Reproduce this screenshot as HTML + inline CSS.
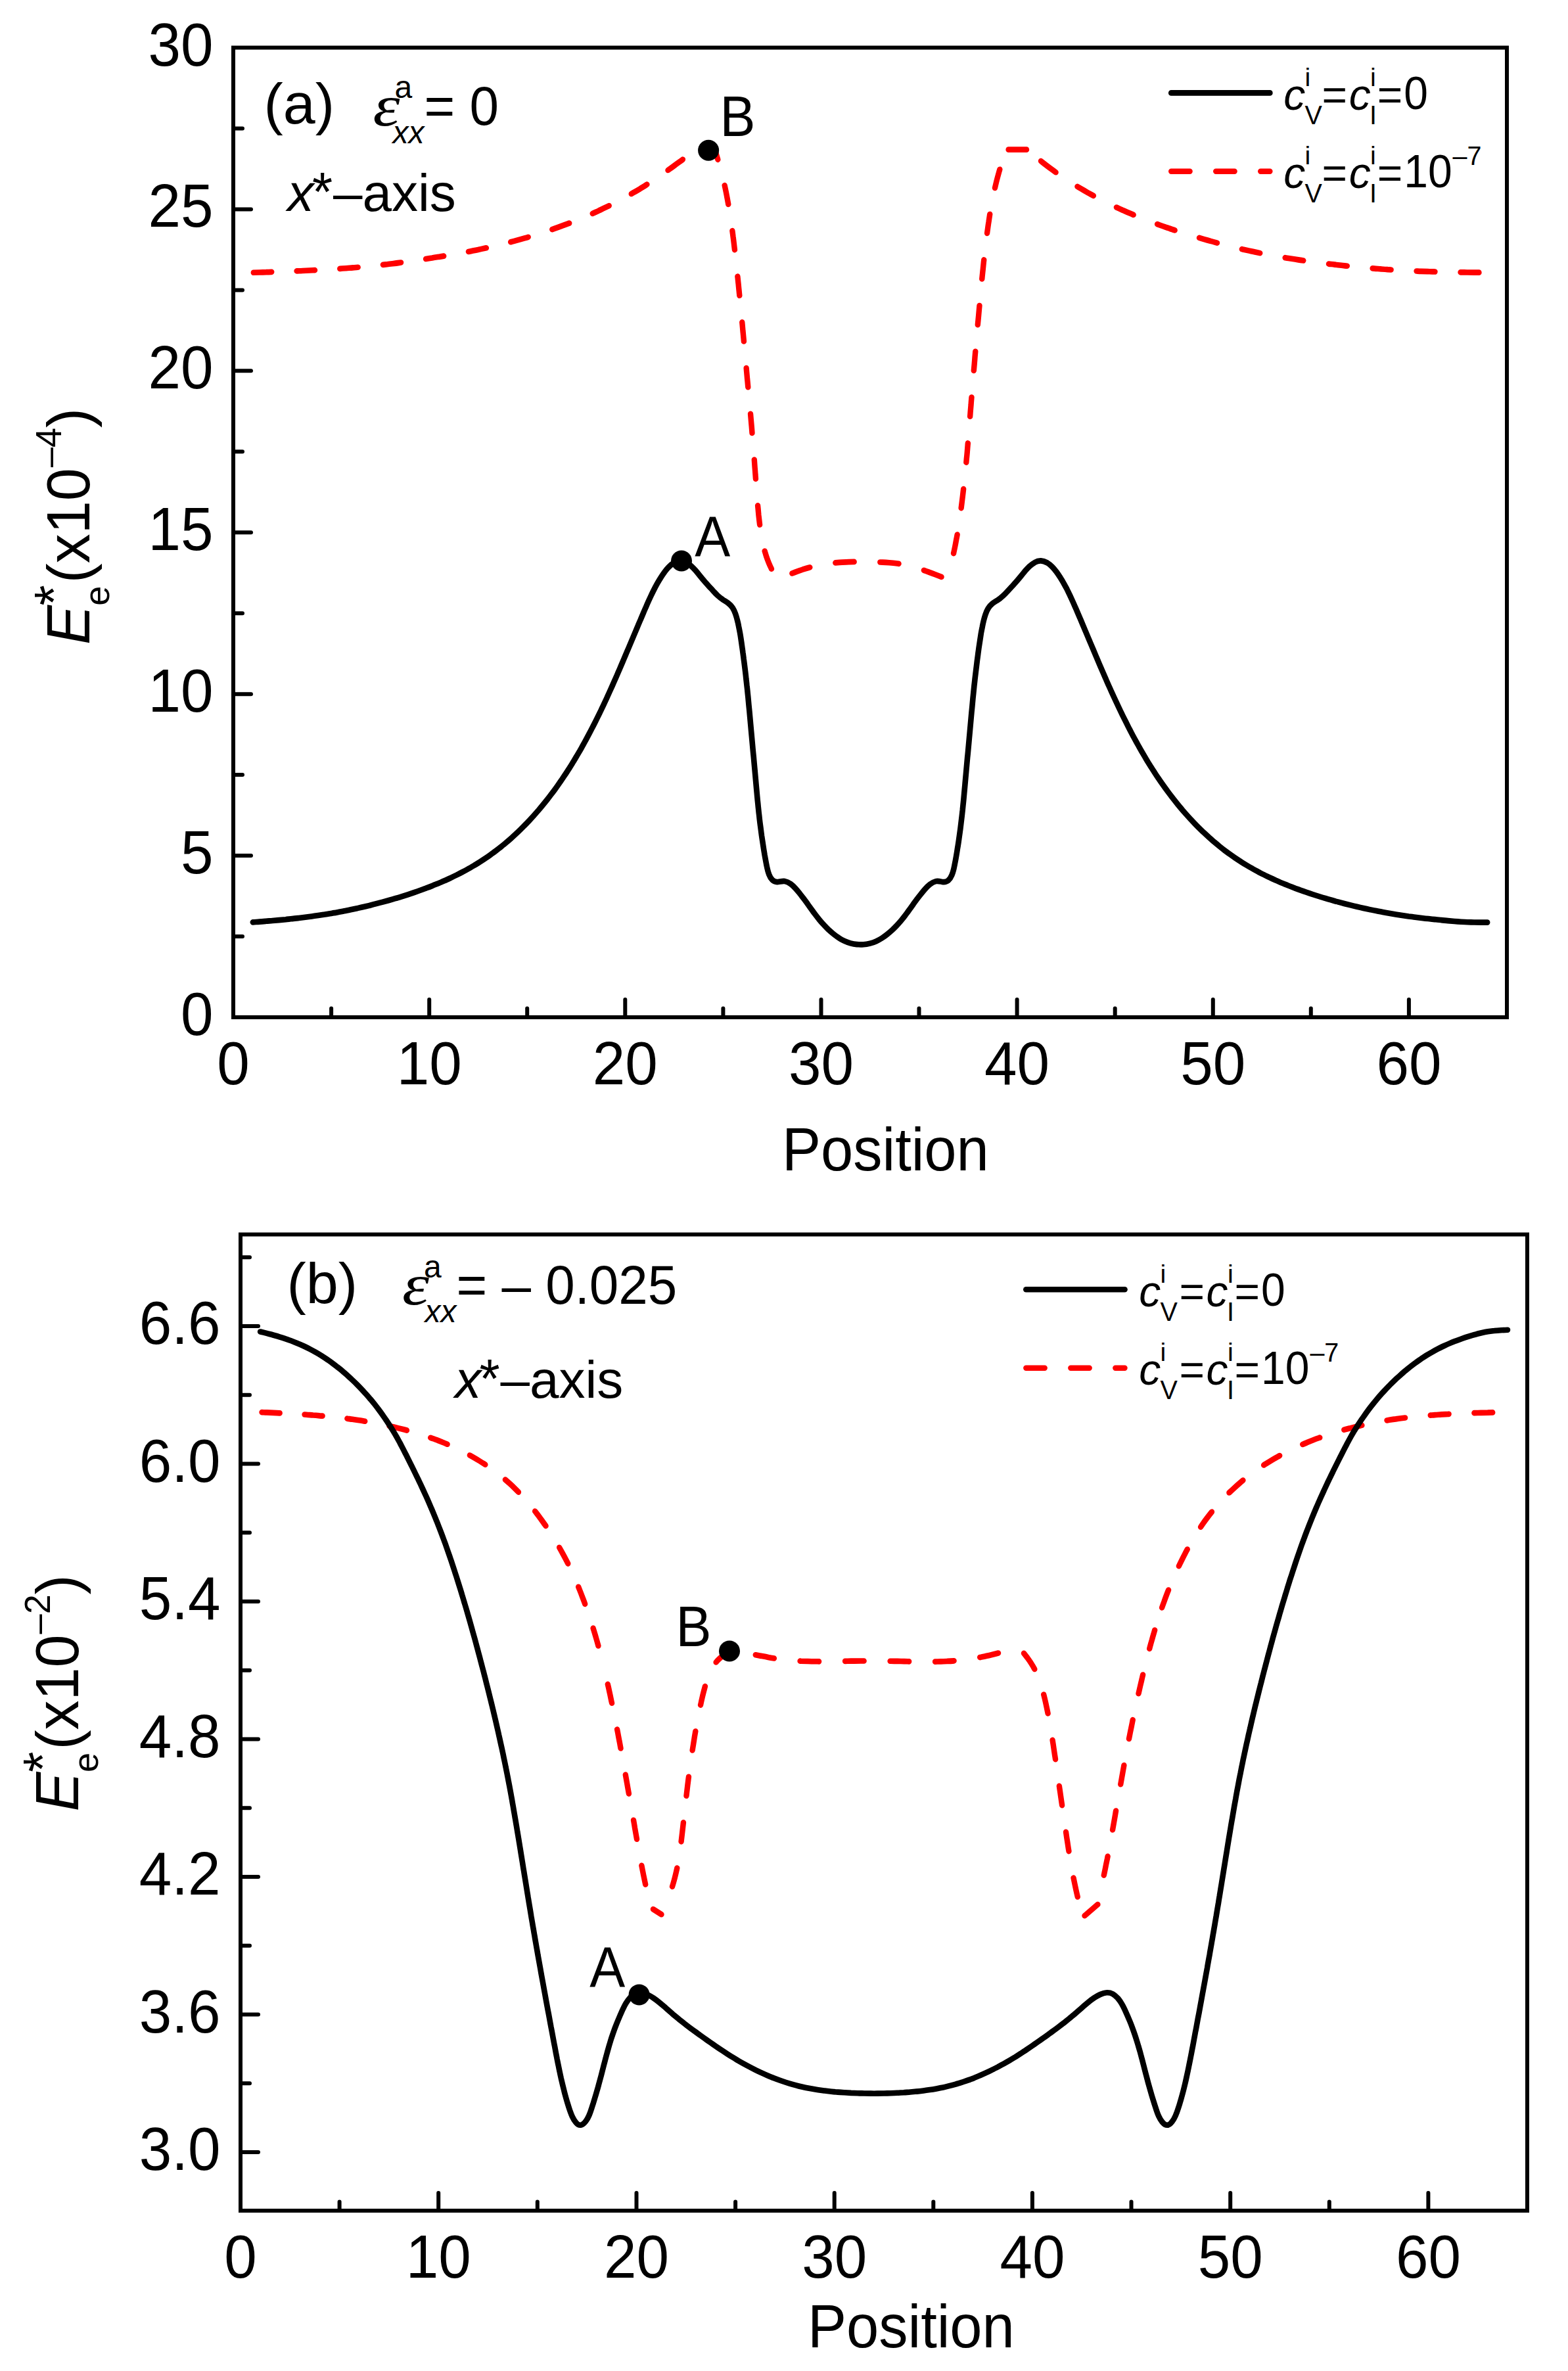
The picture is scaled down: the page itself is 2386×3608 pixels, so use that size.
<!DOCTYPE html>
<html lang="en"><head><meta charset="utf-8"><title>Elastic energy profiles</title>
<style>html,body{margin:0;padding:0;background:#fff}svg{display:block}text{font-family:"Liberation Sans", sans-serif;fill:#000}.it{font-style:italic}.se{font-family:"Liberation Serif", serif;font-style:italic}.ax{stroke:#000;stroke-width:6;fill:none}.tk{stroke:#000;stroke-width:6;stroke-linecap:round}.bk{stroke:#000;stroke-width:8.6;fill:none;stroke-linecap:round;stroke-linejoin:round}.rd{stroke:#f00;stroke-width:8.4;fill:none;stroke-linecap:round;stroke-linejoin:round;stroke-dasharray:28.4 39.6}</style></head><body>
<svg width="2386" height="3608" viewBox="0 0 2386 3608" role="img" aria-label="Elastic energy along the x*-axis, panels (a) and (b)">
<rect width="2386" height="3608" fill="#fff"/>
<rect class="ax" x="355" y="72.5" width="1938" height="1475.5"/>
<text transform="translate(355 1650) scale(1 1.04)" font-size="89" text-anchor="middle">0</text>
<line class="tk" x1="653.2" y1="1548" x2="653.2" y2="1521"/>
<text transform="translate(653.2 1650) scale(1 1.04)" font-size="89" text-anchor="middle">10</text>
<line class="tk" x1="951.3" y1="1548" x2="951.3" y2="1521"/>
<text transform="translate(951.3 1650) scale(1 1.04)" font-size="89" text-anchor="middle">20</text>
<line class="tk" x1="1249.5" y1="1548" x2="1249.5" y2="1521"/>
<text transform="translate(1249.5 1650) scale(1 1.04)" font-size="89" text-anchor="middle">30</text>
<line class="tk" x1="1547.6" y1="1548" x2="1547.6" y2="1521"/>
<text transform="translate(1547.6 1650) scale(1 1.04)" font-size="89" text-anchor="middle">40</text>
<line class="tk" x1="1845.8" y1="1548" x2="1845.8" y2="1521"/>
<text transform="translate(1845.8 1650) scale(1 1.04)" font-size="89" text-anchor="middle">50</text>
<line class="tk" x1="2143.9" y1="1548" x2="2143.9" y2="1521"/>
<text transform="translate(2143.9 1650) scale(1 1.04)" font-size="89" text-anchor="middle">60</text>
<line class="tk" x1="504.1" y1="1548" x2="504.1" y2="1534.5"/>
<line class="tk" x1="802.2" y1="1548" x2="802.2" y2="1534.5"/>
<line class="tk" x1="1100.4" y1="1548" x2="1100.4" y2="1534.5"/>
<line class="tk" x1="1398.5" y1="1548" x2="1398.5" y2="1534.5"/>
<line class="tk" x1="1696.7" y1="1548" x2="1696.7" y2="1534.5"/>
<line class="tk" x1="1994.8" y1="1548" x2="1994.8" y2="1534.5"/>
<text transform="translate(324.5 1575) scale(1 1.04)" font-size="89" text-anchor="end">0</text>
<line class="tk" x1="355" y1="1302.1" x2="382" y2="1302.1"/>
<text transform="translate(324.5 1329.1) scale(1 1.04)" font-size="89" text-anchor="end">5</text>
<line class="tk" x1="355" y1="1056.2" x2="382" y2="1056.2"/>
<text transform="translate(324.5 1083.2) scale(1 1.04)" font-size="89" text-anchor="end">10</text>
<line class="tk" x1="355" y1="810.2" x2="382" y2="810.2"/>
<text transform="translate(324.5 837.2) scale(1 1.04)" font-size="89" text-anchor="end">15</text>
<line class="tk" x1="355" y1="564.3" x2="382" y2="564.3"/>
<text transform="translate(324.5 591.3) scale(1 1.04)" font-size="89" text-anchor="end">20</text>
<line class="tk" x1="355" y1="318.4" x2="382" y2="318.4"/>
<text transform="translate(324.5 345.4) scale(1 1.04)" font-size="89" text-anchor="end">25</text>
<text transform="translate(324.5 99.5) scale(1 1.04)" font-size="89" text-anchor="end">30</text>
<line class="tk" x1="355" y1="1425" x2="369" y2="1425"/>
<line class="tk" x1="355" y1="1179.1" x2="369" y2="1179.1"/>
<line class="tk" x1="355" y1="933.2" x2="369" y2="933.2"/>
<line class="tk" x1="355" y1="687.3" x2="369" y2="687.3"/>
<line class="tk" x1="355" y1="441.4" x2="369" y2="441.4"/>
<line class="tk" x1="355" y1="195.5" x2="369" y2="195.5"/>
<rect class="ax" x="366" y="1878.5" width="1958" height="1485.5"/>
<text transform="translate(366 3466) scale(1 1.04)" font-size="89" text-anchor="middle">0</text>
<line class="tk" x1="667.2" y1="3364" x2="667.2" y2="3337"/>
<text transform="translate(667.2 3466) scale(1 1.04)" font-size="89" text-anchor="middle">10</text>
<line class="tk" x1="968.5" y1="3364" x2="968.5" y2="3337"/>
<text transform="translate(968.5 3466) scale(1 1.04)" font-size="89" text-anchor="middle">20</text>
<line class="tk" x1="1269.7" y1="3364" x2="1269.7" y2="3337"/>
<text transform="translate(1269.7 3466) scale(1 1.04)" font-size="89" text-anchor="middle">30</text>
<line class="tk" x1="1570.9" y1="3364" x2="1570.9" y2="3337"/>
<text transform="translate(1570.9 3466) scale(1 1.04)" font-size="89" text-anchor="middle">40</text>
<line class="tk" x1="1872.2" y1="3364" x2="1872.2" y2="3337"/>
<text transform="translate(1872.2 3466) scale(1 1.04)" font-size="89" text-anchor="middle">50</text>
<line class="tk" x1="2173.4" y1="3364" x2="2173.4" y2="3337"/>
<text transform="translate(2173.4 3466) scale(1 1.04)" font-size="89" text-anchor="middle">60</text>
<line class="tk" x1="516.6" y1="3364" x2="516.6" y2="3350.5"/>
<line class="tk" x1="817.8" y1="3364" x2="817.8" y2="3350.5"/>
<line class="tk" x1="1119.1" y1="3364" x2="1119.1" y2="3350.5"/>
<line class="tk" x1="1420.3" y1="3364" x2="1420.3" y2="3350.5"/>
<line class="tk" x1="1721.5" y1="3364" x2="1721.5" y2="3350.5"/>
<line class="tk" x1="2022.8" y1="3364" x2="2022.8" y2="3350.5"/>
<line class="tk" x1="366" y1="3275" x2="393" y2="3275"/>
<text transform="translate(335.5 3302) scale(1 1.04)" font-size="89" text-anchor="end">3.0</text>
<line class="tk" x1="366" y1="3065.5" x2="393" y2="3065.5"/>
<text transform="translate(335.5 3092.5) scale(1 1.04)" font-size="89" text-anchor="end">3.6</text>
<line class="tk" x1="366" y1="2856" x2="393" y2="2856"/>
<text transform="translate(335.5 2883) scale(1 1.04)" font-size="89" text-anchor="end">4.2</text>
<line class="tk" x1="366" y1="2646.5" x2="393" y2="2646.5"/>
<text transform="translate(335.5 2673.5) scale(1 1.04)" font-size="89" text-anchor="end">4.8</text>
<line class="tk" x1="366" y1="2437" x2="393" y2="2437"/>
<text transform="translate(335.5 2464) scale(1 1.04)" font-size="89" text-anchor="end">5.4</text>
<line class="tk" x1="366" y1="2227.5" x2="393" y2="2227.5"/>
<text transform="translate(335.5 2254.5) scale(1 1.04)" font-size="89" text-anchor="end">6.0</text>
<line class="tk" x1="366" y1="2018" x2="393" y2="2018"/>
<text transform="translate(335.5 2045) scale(1 1.04)" font-size="89" text-anchor="end">6.6</text>
<line class="tk" x1="366" y1="3170.2" x2="380" y2="3170.2"/>
<line class="tk" x1="366" y1="2960.8" x2="380" y2="2960.8"/>
<line class="tk" x1="366" y1="2751.2" x2="380" y2="2751.2"/>
<line class="tk" x1="366" y1="2541.8" x2="380" y2="2541.8"/>
<line class="tk" x1="366" y1="2332.2" x2="380" y2="2332.2"/>
<line class="tk" x1="366" y1="2122.8" x2="380" y2="2122.8"/>
<line class="tk" x1="366" y1="1913.2" x2="380" y2="1913.2"/>
<g transform="scale(1 1.03)">
<path class="rd" style="stroke-dasharray:27.5 38.3;stroke-dashoffset:64.8" d="M384.8 402.7C388.2 402.6 391.6 402.5 394.9 402.4C398.3 402.3 401.7 402.2 405.1 402.1C408.5 401.9 411.8 401.8 415.2 401.7C418.6 401.6 422 401.5 425.4 401.4C428.7 401.2 432.1 401.1 435.5 401C438.9 400.9 442.2 400.7 445.6 400.6C449 400.5 452.4 400.3 455.8 400.2C459.1 400.1 462.5 399.9 465.9 399.8C469.3 399.6 472.6 399.5 476 399.3C479.4 399.1 482.8 399 486.2 398.8C489.5 398.6 492.9 398.4 496.3 398.2C499.7 398 503 397.8 506.4 397.6C509.8 397.4 513.2 397.2 516.5 397C519.9 396.7 523.3 396.5 526.6 396.3C530 396 533.4 395.8 536.8 395.5C540.1 395.2 543.5 395 546.9 394.7C550.2 394.4 553.6 394.1 557 393.8C560.3 393.5 563.7 393.1 567.1 392.8C570.4 392.5 573.8 392.1 577.1 391.8C580.5 391.4 583.9 391 587.2 390.7C590.6 390.3 593.9 389.9 597.3 389.5C600.7 389.1 604 388.7 607.4 388.2C610.7 387.8 614.1 387.4 617.4 386.9C620.8 386.5 624.1 386 627.5 385.5C630.8 385 634.2 384.6 637.5 384.1C640.9 383.6 644.2 383.1 647.5 382.6C650.9 382.1 654.2 381.6 657.6 381.1C660.9 380.5 664.3 380 667.6 379.5C670.9 378.9 674.3 378.4 677.6 377.9C681 377.3 684.3 376.8 687.6 376.2C691 375.6 694.3 375.1 697.6 374.5C701 373.9 704.3 373.3 707.6 372.7C710.9 372.1 714.3 371.5 717.6 370.8C720.9 370.2 724.2 369.5 727.5 368.9C730.8 368.2 734.2 367.5 737.5 366.8C740.8 366.1 744.1 365.4 747.4 364.7C750.7 363.9 754 363.2 757.3 362.4C760.6 361.6 763.8 360.8 767.1 360C770.4 359.2 773.7 358.4 777 357.6C780.2 356.7 783.5 355.9 786.8 355C790 354.1 793.3 353.2 796.6 352.3C799.8 351.4 803.1 350.5 806.3 349.5C809.6 348.6 812.8 347.6 816 346.6C819.3 345.7 822.5 344.7 825.7 343.6C829 342.6 832.2 341.6 835.4 340.5C838.6 339.5 841.8 338.4 845 337.3C848.2 336.2 851.4 335.1 854.6 333.9C857.8 332.8 860.9 331.6 864.1 330.5C867.3 329.3 870.4 328.1 873.6 326.9C876.8 325.6 879.9 324.4 883 323.2C886.2 321.9 889.3 320.6 892.4 319.3C895.6 318 898.7 316.7 901.8 315.4C904.9 314 908 312.7 911.1 311.3C914.1 309.9 917.2 308.5 920.3 307C923.3 305.6 926.4 304.2 929.4 302.7C932.5 301.2 935.5 299.7 938.5 298.2C941.5 296.7 944.5 295.1 947.5 293.6C950.5 292 953.5 290.4 956.5 288.8C959.4 287.2 962.4 285.5 965.3 283.8C968.3 282.2 971.2 280.5 974.1 278.8C977 277 979.9 275.3 982.8 273.5C985.6 271.8 988.5 270 991.3 268.1C994.2 266.3 997 264.5 999.8 262.6C1002.7 260.8 1005.5 258.9 1008.3 257C1011.1 255.1 1013.9 253.2 1016.7 251.3C1019.4 249.4 1022.2 247.4 1025 245.5C1027.8 243.6 1030.5 241.6 1033.3 239.6C1036 237.7 1038.8 235.7 1041.5 233.7C1044.3 231.8 1047 229.8 1049.8 227.8C1052.5 225.8 1055.3 223.8 1058 221.8"/>
<path class="rd" style="stroke-dasharray:28.4 39.6" d="M1068 221.8L1088 221.8"/>
<path class="rd" style="stroke-dasharray:28.4 39.6;stroke-dashoffset:13.8" d="M1088 221.8C1089 225 1090 228.2 1091 231.4C1092 234.6 1093 237.8 1093.9 241.1C1094.9 244.3 1095.8 247.5 1096.7 250.7C1097.6 253.9 1098.5 257.2 1099.3 260.4C1100.2 263.7 1101 266.9 1101.8 270.2C1102.6 273.4 1103.3 276.7 1104 280C1104.7 283.2 1105.4 286.5 1106 289.8C1106.7 293.1 1107.3 296.4 1107.9 299.7C1108.5 303 1109.1 306.3 1109.7 309.6C1110.2 312.9 1110.8 316.2 1111.3 319.5C1111.8 322.8 1112.3 326.2 1112.8 329.5C1113.3 332.8 1113.7 336.1 1114.2 339.4C1114.6 342.8 1115.1 346.1 1115.5 349.4C1116 352.8 1116.4 356.1 1116.8 359.4C1117.2 362.8 1117.6 366.1 1118 369.4C1118.4 372.8 1118.8 376.1 1119.2 379.4C1119.6 382.8 1120 386.1 1120.3 389.5C1120.7 392.8 1121.1 396.1 1121.4 399.5C1121.8 402.8 1122.1 406.1 1122.5 409.5C1122.9 412.8 1123.2 416.2 1123.6 419.5C1123.9 422.8 1124.2 426.2 1124.6 429.5C1124.9 432.9 1125.3 436.2 1125.6 439.6C1125.9 442.9 1126.3 446.2 1126.6 449.6C1127 452.9 1127.3 456.3 1127.6 459.6C1127.9 462.9 1128.3 466.3 1128.6 469.6C1128.9 473 1129.3 476.3 1129.6 479.6C1129.9 483 1130.2 486.3 1130.5 489.7C1130.9 493 1131.2 496.3 1131.5 499.7C1131.8 503 1132.1 506.4 1132.4 509.7C1132.8 513.1 1133.1 516.4 1133.4 519.7C1133.7 523.1 1134 526.4 1134.3 529.8C1134.6 533.1 1135 536.4 1135.3 539.8C1135.6 543.1 1135.9 546.5 1136.2 549.8C1136.5 553.1 1136.8 556.5 1137.1 559.8C1137.5 563.2 1137.8 566.5 1138.1 569.9C1138.4 573.2 1138.7 576.5 1139 579.9C1139.4 583.2 1139.7 586.6 1140 589.9C1140.3 593.2 1140.6 596.6 1140.9 599.9C1141.2 603.3 1141.5 606.6 1141.9 609.9C1142.2 613.3 1142.5 616.6 1142.8 620C1143.1 623.3 1143.4 626.7 1143.7 630C1144 633.4 1144.3 636.7 1144.5 640C1144.8 643.4 1145.1 646.7 1145.4 650.1C1145.7 653.4 1146 656.8 1146.2 660.1C1146.5 663.5 1146.8 666.8 1147.1 670.2C1147.3 673.5 1147.6 676.9 1147.9 680.3C1148.1 683.6 1148.4 687 1148.6 690.3C1148.9 693.7 1149.2 697 1149.4 700.4C1149.7 703.8 1149.9 707.1 1150.2 710.5C1150.4 713.9 1150.7 717.2 1150.9 720.6C1151.2 724 1151.4 727.3 1151.7 730.7C1152 734.1 1152.3 737.4 1152.5 740.8C1152.8 744.1 1153.1 747.5 1153.5 750.9C1153.8 754.2 1154.1 757.6 1154.4 760.9C1154.8 764.3 1155.2 767.6 1155.6 771C1156 774.3 1156.4 777.7 1156.8 781C1157.3 784.3 1157.8 787.6 1158.4 790.9C1159 794.2 1159.6 797.5 1160.3 800.8C1161 804 1161.8 807.3 1162.6 810.5C1163.5 813.7 1164.5 816.9 1165.5 820C1166.5 823.2 1167.7 826.3 1168.9 829.4C1170.2 832.4 1171.5 835.5 1173 838.5C1174.4 841.4 1176 844.4 1177.6 847.3C1179.3 850.2 1181 853 1182.7 855.9"/>
<path class="rd" style="stroke-dasharray:28.4 39.6;stroke-dashoffset:43.7" d="M1182.7 855.9C1185.9 854.6 1189.1 853.4 1192.3 852.1C1195.5 850.8 1198.7 849.6 1201.9 848.4C1205.1 847.1 1208.3 846 1211.5 844.8C1214.7 843.7 1218 842.6 1221.2 841.5C1224.4 840.5 1227.7 839.5 1231 838.6C1234.3 837.7 1237.6 836.9 1240.9 836.2C1244.2 835.4 1247.5 834.8 1250.9 834.2C1254.2 833.6 1257.6 833.1 1261 832.6C1264.3 832.2 1267.7 831.8 1271.1 831.5C1274.5 831.2 1277.9 830.9 1281.4 830.7C1284.8 830.5 1288.2 830.3 1291.6 830.2C1295.1 830.1 1298.5 830 1301.9 830C1305.4 829.9 1308.8 829.9 1312.2 829.9C1315.7 830 1319.1 830 1322.5 830.1C1326 830.1 1329.4 830.2 1332.8 830.3C1336.3 830.4 1339.7 830.6 1343.1 830.7C1346.5 830.9 1349.9 831.1 1353.3 831.3C1356.7 831.6 1360.1 831.9 1363.5 832.3C1366.9 832.7 1370.2 833.3 1373.6 833.9C1376.9 834.5 1380.2 835.2 1383.5 836C1386.8 836.8 1390.1 837.7 1393.4 838.6C1396.6 839.6 1399.9 840.6 1403.2 841.6C1406.4 842.7 1409.6 843.8 1412.9 845C1416.1 846.1 1419.3 847.3 1422.5 848.5C1425.8 849.7 1429 850.9 1432.2 852.2C1435.4 853.4 1438.6 854.7 1441.8 855.9"/>
<path class="rd" style="stroke-dasharray:28.4 39.6;stroke-dashoffset:28.6" d="M1441.8 855.9C1442.6 852.7 1443.4 849.4 1444.2 846.2C1445 842.9 1445.8 839.7 1446.6 836.4C1447.4 833.2 1448.2 829.9 1448.9 826.7C1449.7 823.4 1450.4 820.1 1451.2 816.9C1451.9 813.6 1452.6 810.3 1453.3 807.1C1454 803.8 1454.6 800.5 1455.2 797.2C1455.9 793.9 1456.5 790.7 1457.1 787.4C1457.6 784.1 1458.2 780.8 1458.7 777.5C1459.2 774.2 1459.7 770.9 1460.2 767.6C1460.7 764.3 1461.2 760.9 1461.7 757.6C1462.1 754.3 1462.6 751 1463 747.7C1463.4 744.4 1463.9 741.1 1464.3 737.7C1464.7 734.4 1465.1 731.1 1465.5 727.8C1465.9 724.4 1466.3 721.1 1466.7 717.8C1467.1 714.5 1467.4 711.1 1467.8 707.8C1468.2 704.5 1468.5 701.2 1468.9 697.8C1469.2 694.5 1469.5 691.2 1469.9 687.8C1470.2 684.5 1470.5 681.2 1470.8 677.8C1471.2 674.5 1471.5 671.2 1471.8 667.8C1472.1 664.5 1472.3 661.2 1472.6 657.8C1472.9 654.5 1473.2 651.2 1473.5 647.8C1473.8 644.5 1474 641.2 1474.3 637.8C1474.6 634.5 1474.9 631.1 1475.1 627.8C1475.4 624.5 1475.7 621.1 1475.9 617.8C1476.2 614.5 1476.5 611.1 1476.7 607.8C1477 604.5 1477.3 601.1 1477.6 597.8C1477.8 594.4 1478.1 591.1 1478.4 587.8C1478.7 584.4 1478.9 581.1 1479.2 577.8C1479.5 574.4 1479.8 571.1 1480.1 567.8C1480.3 564.4 1480.6 561.1 1480.9 557.7C1481.2 554.4 1481.5 551.1 1481.8 547.7C1482.1 544.4 1482.4 541.1 1482.7 537.7C1483 534.4 1483.3 531.1 1483.5 527.7C1483.8 524.4 1484.1 521.1 1484.4 517.7C1484.7 514.4 1485 511.1 1485.3 507.7C1485.6 504.4 1485.9 501.1 1486.2 497.7C1486.5 494.4 1486.8 491.1 1487.1 487.7C1487.4 484.4 1487.7 481.1 1488 477.7C1488.3 474.4 1488.7 471.1 1489 467.7C1489.3 464.4 1489.6 461.1 1489.9 457.7C1490.2 454.4 1490.5 451.1 1490.8 447.7C1491.1 444.4 1491.4 441 1491.8 437.7C1492.1 434.4 1492.4 431 1492.7 427.7C1493.1 424.4 1493.4 421 1493.7 417.7C1494 414.4 1494.4 411 1494.7 407.7C1495.1 404.4 1495.4 401 1495.8 397.7C1496.1 394.4 1496.5 391.1 1496.8 387.7C1497.2 384.4 1497.6 381.1 1497.9 377.7C1498.3 374.4 1498.7 371.1 1499.1 367.7C1499.5 364.4 1499.9 361.1 1500.3 357.8C1500.7 354.4 1501.2 351.1 1501.6 347.8C1502.1 344.5 1502.5 341.2 1503 337.9C1503.5 334.5 1503.9 331.2 1504.5 327.9C1505 324.6 1505.5 321.3 1506 318C1506.6 314.7 1507.1 311.4 1507.7 308.1C1508.3 304.8 1508.9 301.5 1509.5 298.3C1510.2 295 1510.8 291.7 1511.5 288.4C1512.2 285.2 1513 281.9 1513.7 278.7C1514.5 275.4 1515.3 272.2 1516.1 268.9C1516.9 265.7 1517.8 262.5 1518.7 259.3C1519.6 256.1 1520.5 252.9 1521.5 249.7C1522.5 246.5 1523.4 243.3 1524.4 240.1C1525.4 236.9 1526.5 233.7 1527.5 230.5C1528.5 227.3 1529.6 224.2 1530.6 221"/>
<path class="rd" style="stroke-dasharray:28.4 39.6;stroke-dashoffset:64" d="M1530.6 221L1562 221"/>
<path class="rd" style="stroke-dasharray:28 39;stroke-dashoffset:39.2" d="M1562 221C1564.7 223 1567.3 225.1 1570 227.2C1572.7 229.3 1575.3 231.3 1578 233.4C1580.7 235.5 1583.3 237.5 1586 239.5C1588.7 241.6 1591.4 243.6 1594.1 245.6C1596.8 247.6 1599.6 249.6 1602.3 251.5C1605 253.5 1607.8 255.4 1610.6 257.3C1613.4 259.2 1616.1 261.1 1619 263C1621.8 264.8 1624.6 266.6 1627.5 268.4C1630.3 270.2 1633.2 271.9 1636.1 273.6C1639 275.4 1641.9 277.1 1644.8 278.7C1647.8 280.4 1650.7 282 1653.7 283.7C1656.6 285.3 1659.6 286.9 1662.6 288.5C1665.5 290 1668.5 291.6 1671.5 293.1C1674.5 294.7 1677.5 296.2 1680.6 297.6C1683.6 299.1 1686.6 300.6 1689.7 302C1692.7 303.5 1695.8 304.9 1698.9 306.3C1702 307.7 1705 309 1708.1 310.4C1711.2 311.7 1714.3 313.1 1717.4 314.4C1720.5 315.7 1723.7 317 1726.8 318.2C1729.9 319.5 1733.1 320.7 1736.2 322C1739.3 323.2 1742.5 324.4 1745.6 325.6C1748.8 326.8 1752 327.9 1755.1 329.1C1758.3 330.2 1761.5 331.4 1764.7 332.5C1767.9 333.6 1771.1 334.7 1774.3 335.8C1777.5 336.8 1780.7 337.9 1783.9 338.9C1787.1 340 1790.3 341 1793.5 342C1796.7 343 1800 344 1803.2 345C1806.4 346 1809.6 347 1812.9 347.9C1816.1 348.9 1819.4 349.8 1822.6 350.7C1825.8 351.7 1829.1 352.6 1832.3 353.5C1835.6 354.4 1838.8 355.3 1842.1 356.2C1845.4 357 1848.6 357.9 1851.9 358.8C1855.1 359.6 1858.4 360.5 1861.7 361.3C1865 362.1 1868.2 362.9 1871.5 363.7C1874.8 364.5 1878.1 365.3 1881.3 366.1C1884.6 366.9 1887.9 367.6 1891.2 368.4C1894.5 369.1 1897.8 369.8 1901.1 370.5C1904.4 371.3 1907.7 371.9 1911 372.6C1914.3 373.3 1917.6 374 1920.9 374.6C1924.2 375.2 1927.5 375.9 1930.8 376.5C1934.1 377.1 1937.5 377.7 1940.8 378.3C1944.1 378.8 1947.4 379.4 1950.8 380C1954.1 380.5 1957.4 381.1 1960.7 381.6C1964.1 382.1 1967.4 382.6 1970.7 383.1C1974.1 383.6 1977.4 384.1 1980.8 384.6C1984.1 385.1 1987.4 385.5 1990.8 386C1994.1 386.4 1997.5 386.9 2000.8 387.3C2004.1 387.7 2007.5 388.2 2010.8 388.6C2014.2 389 2017.5 389.4 2020.9 389.8C2024.2 390.2 2027.6 390.5 2030.9 390.9C2034.3 391.3 2037.6 391.6 2041 392C2044.4 392.4 2047.7 392.7 2051.1 393.1C2054.4 393.4 2057.8 393.7 2061.1 394.1C2064.5 394.4 2067.9 394.7 2071.2 395C2074.6 395.3 2077.9 395.6 2081.3 395.9C2084.6 396.2 2088 396.4 2091.4 396.7C2094.7 397 2098.1 397.2 2101.5 397.5C2104.8 397.7 2108.2 397.9 2111.5 398.2C2114.9 398.4 2118.3 398.6 2121.6 398.8C2125 399 2128.4 399.2 2131.7 399.4C2135.1 399.6 2138.5 399.7 2141.8 399.9C2145.2 400.1 2148.6 400.2 2151.9 400.4C2155.3 400.5 2158.7 400.7 2162.1 400.8C2165.4 400.9 2168.8 401 2172.2 401.1C2175.5 401.2 2178.9 401.4 2182.3 401.4C2185.6 401.5 2189 401.6 2192.4 401.7C2195.8 401.8 2199.1 401.9 2202.5 401.9C2205.9 402 2209.2 402.1 2212.6 402.1C2216 402.2 2219.4 402.2 2222.7 402.3C2226.1 402.3 2229.5 402.4 2232.8 402.4C2236.2 402.5 2239.6 402.5 2243 402.5C2246.3 402.6 2249.7 402.6 2253.1 402.6C2256.5 402.7 2259.8 402.7 2263.2 402.7"/>
</g>
<path class="bk" d="M384.8 1403.4C388.1 1403.1 391.5 1402.9 394.8 1402.6C398.1 1402.4 401.4 1402.1 404.8 1401.8C408.1 1401.5 411.4 1401.3 414.7 1401C418.1 1400.7 421.4 1400.4 424.7 1400.1C428 1399.8 431.3 1399.5 434.7 1399.2C438 1398.8 441.3 1398.5 444.6 1398.1C447.9 1397.8 451.2 1397.4 454.6 1397C457.9 1396.6 461.2 1396.2 464.5 1395.8C467.8 1395.4 471.1 1395 474.4 1394.5C477.7 1394.1 481 1393.6 484.3 1393.1C487.6 1392.6 490.9 1392.1 494.2 1391.6C497.5 1391 500.8 1390.5 504.1 1389.9C507.4 1389.4 510.7 1388.8 513.9 1388.2C517.2 1387.6 520.5 1386.9 523.8 1386.3C527 1385.7 530.3 1385 533.6 1384.3C536.9 1383.6 540.1 1382.9 543.4 1382.2C546.6 1381.5 549.9 1380.8 553.1 1380C556.4 1379.3 559.6 1378.5 562.9 1377.7C566.1 1376.9 569.3 1376.1 572.6 1375.2C575.8 1374.4 579 1373.6 582.3 1372.7C585.5 1371.8 588.7 1370.9 591.9 1370C595.1 1369.1 598.3 1368.2 601.5 1367.2C604.7 1366.3 607.9 1365.3 611.1 1364.3C614.3 1363.3 617.5 1362.3 620.6 1361.3C623.8 1360.3 627 1359.2 630.1 1358.1C633.3 1357 636.4 1355.9 639.6 1354.8C642.7 1353.7 645.8 1352.5 649 1351.3C652.1 1350.2 655.2 1349 658.3 1347.7C661.4 1346.5 664.5 1345.2 667.6 1344C670.6 1342.7 673.7 1341.3 676.8 1340C679.8 1338.6 682.9 1337.3 685.9 1335.8C688.9 1334.4 691.9 1333 694.9 1331.5C697.9 1330 700.8 1328.5 703.8 1326.9C706.8 1325.4 709.7 1323.8 712.6 1322.1C715.5 1320.5 718.4 1318.8 721.3 1317.1C724.1 1315.4 727 1313.7 729.8 1311.9C732.6 1310.1 735.4 1308.3 738.2 1306.4C741 1304.6 743.7 1302.7 746.4 1300.7C749.1 1298.8 751.8 1296.8 754.5 1294.8C757.1 1292.8 759.8 1290.7 762.4 1288.6C765 1286.5 767.6 1284.4 770.1 1282.3C772.7 1280.1 775.2 1277.9 777.7 1275.7C780.2 1273.5 782.6 1271.2 785.1 1268.9C787.5 1266.7 789.9 1264.4 792.3 1262C794.7 1259.7 797 1257.3 799.4 1254.9C801.7 1252.5 804 1250.1 806.3 1247.7C808.5 1245.2 810.8 1242.7 813 1240.3C815.2 1237.8 817.4 1235.2 819.6 1232.7C821.8 1230.2 823.9 1227.6 826 1225C828.1 1222.4 830.2 1219.8 832.3 1217.2C834.4 1214.6 836.4 1212 838.4 1209.3C840.4 1206.6 842.4 1204 844.4 1201.3C846.4 1198.6 848.3 1195.9 850.2 1193.1C852.1 1190.4 854 1187.6 855.9 1184.9C857.8 1182.1 859.6 1179.3 861.5 1176.5C863.3 1173.8 865.1 1170.9 866.9 1168.1C868.7 1165.3 870.4 1162.5 872.2 1159.6C873.9 1156.8 875.6 1153.9 877.3 1151C879 1148.2 880.7 1145.3 882.4 1142.4C884 1139.5 885.7 1136.6 887.3 1133.7C888.9 1130.8 890.5 1127.8 892.1 1124.9C893.7 1122 895.3 1119 896.8 1116.1C898.4 1113.1 899.9 1110.2 901.4 1107.2C903 1104.2 904.5 1101.2 906 1098.3C907.5 1095.3 909 1092.3 910.4 1089.3C911.9 1086.3 913.3 1083.3 914.8 1080.3C916.2 1077.3 917.7 1074.3 919.1 1071.2C920.5 1068.2 921.9 1065.2 923.3 1062.2C924.7 1059.1 926.1 1056.1 927.4 1053.1C928.8 1050 930.2 1047 931.6 1043.9C932.9 1040.9 934.3 1037.8 935.6 1034.8C936.9 1031.7 938.3 1028.7 939.6 1025.6C940.9 1022.5 942.3 1019.5 943.6 1016.4C944.9 1013.3 946.2 1010.3 947.5 1007.2C948.8 1004.1 950.1 1001.1 951.4 998C952.7 994.9 954 991.9 955.3 988.8C956.6 985.7 957.9 982.6 959.2 979.6C960.5 976.5 961.8 973.4 963.1 970.3C964.4 967.3 965.7 964.2 967 961.1C968.3 958 969.6 955 970.9 951.9C972.2 948.8 973.4 945.7 974.8 942.7C976.1 939.6 977.4 936.5 978.7 933.5C980 930.4 981.3 927.3 982.7 924.3C984 921.2 985.3 918.2 986.7 915.1C988.1 912.1 989.5 909 990.9 906C992.3 903 993.8 900 995.3 897C996.8 894 998.4 891.1 1000 888.2C1001.6 885.3 1003.3 882.4 1005.1 879.6C1006.9 876.7 1008.7 874 1010.7 871.2C1012.7 868.5 1014.7 865.9 1017 863.5C1019.3 861 1021.8 858.8 1024.7 857C1027.5 855.2 1030.7 853.9 1034 853.5C1037.3 853.1 1040.5 853.9 1043.5 855.4C1046.5 856.9 1049.2 859 1051.7 861.2C1054.2 863.5 1056.5 865.9 1058.7 868.4C1060.9 871 1063 873.6 1065.1 876.2C1067.2 878.8 1069.3 881.4 1071.5 883.9C1073.6 886.4 1075.9 888.9 1078.1 891.4C1080.4 893.8 1082.6 896.3 1084.9 898.8C1087.2 901.2 1089.4 903.7 1091.8 906C1094.3 908.3 1096.8 910.4 1099.6 912.2C1102.4 914.1 1105.3 915.7 1108 917.7C1110.7 919.7 1113 922.1 1114.8 924.8C1116.6 927.6 1117.9 930.7 1119.1 933.9C1120.2 937 1121.1 940.2 1121.9 943.5C1122.8 946.7 1123.5 950 1124.1 953.3C1124.8 956.6 1125.4 959.8 1126 963.1C1126.6 966.4 1127.1 969.7 1127.6 973C1128.1 976.3 1128.6 979.6 1129 982.9C1129.5 986.2 1130 989.5 1130.4 992.8C1130.9 996.1 1131.3 999.5 1131.7 1002.8C1132.2 1006.1 1132.6 1009.4 1133 1012.7C1133.4 1016 1133.8 1019.3 1134.2 1022.6C1134.6 1025.9 1135 1029.3 1135.3 1032.6C1135.7 1035.9 1136.1 1039.2 1136.4 1042.5C1136.8 1045.8 1137.2 1049.1 1137.5 1052.5C1137.8 1055.8 1138.2 1059.1 1138.5 1062.4C1138.8 1065.7 1139.1 1069.1 1139.4 1072.4C1139.7 1075.7 1140.1 1079 1140.4 1082.4C1140.7 1085.7 1141 1089 1141.3 1092.3C1141.6 1095.6 1141.9 1099 1142.2 1102.3C1142.5 1105.6 1142.8 1108.9 1143.1 1112.3C1143.4 1115.6 1143.7 1118.9 1144 1122.2C1144.3 1125.5 1144.6 1128.9 1144.9 1132.2C1145.2 1135.5 1145.5 1138.8 1145.8 1142.2C1146.1 1145.5 1146.5 1148.8 1146.8 1152.1C1147.1 1155.4 1147.4 1158.8 1147.7 1162.1C1148 1165.4 1148.3 1168.7 1148.6 1172C1148.9 1175.4 1149.2 1178.7 1149.5 1182C1149.8 1185.3 1150.1 1188.7 1150.4 1192C1150.7 1195.3 1151 1198.6 1151.3 1202C1151.6 1205.3 1151.9 1208.6 1152.2 1211.9C1152.5 1215.2 1152.8 1218.6 1153.2 1221.9C1153.5 1225.2 1153.8 1228.5 1154.2 1231.8C1154.5 1235.2 1154.9 1238.5 1155.3 1241.8C1155.6 1245.1 1156 1248.4 1156.4 1251.7C1156.8 1255 1157.3 1258.3 1157.7 1261.6C1158.1 1265 1158.6 1268.3 1159 1271.6C1159.5 1274.9 1160 1278.2 1160.5 1281.5C1161 1284.8 1161.5 1288 1162 1291.3C1162.5 1294.6 1163.1 1297.9 1163.6 1301.2C1164.2 1304.5 1164.8 1307.8 1165.4 1311.1C1166 1314.4 1166.6 1317.6 1167.4 1320.9C1168.1 1324.2 1169 1327.6 1170.2 1330.8C1171.4 1334 1173.1 1337 1175.4 1339.2C1177.8 1341.5 1180.9 1342.4 1184.1 1342C1187.3 1341.6 1190.8 1340.5 1194 1340.9C1197.2 1341.4 1200.3 1343 1203 1345C1205.7 1347 1208.2 1349.3 1210.4 1351.8C1212.7 1354.3 1214.8 1357 1216.9 1359.6C1219 1362.2 1221 1364.9 1223.1 1367.5C1225.1 1370.2 1227 1372.9 1229 1375.6C1230.9 1378.3 1232.9 1381 1234.8 1383.7C1236.7 1386.4 1238.7 1389.1 1240.7 1391.8C1242.7 1394.5 1244.8 1397.1 1246.9 1399.7C1249 1402.3 1251.2 1404.8 1253.4 1407.2C1255.7 1409.7 1258 1412.1 1260.4 1414.4C1262.9 1416.7 1265.4 1418.9 1268 1421C1270.6 1423.1 1273.3 1425.1 1276.1 1426.9C1278.8 1428.8 1281.7 1430.5 1284.8 1431.9C1287.8 1433.3 1290.9 1434.5 1294.1 1435.3C1297.4 1436.2 1300.7 1436.8 1304 1437.1C1307.3 1437.5 1310.7 1437.5 1314 1437.2C1317.3 1437 1320.6 1436.4 1323.9 1435.6C1327.1 1434.8 1330.3 1433.7 1333.3 1432.3C1336.4 1430.9 1339.3 1429.3 1342.1 1427.5C1344.9 1425.7 1347.6 1423.7 1350.2 1421.6C1352.8 1419.5 1355.4 1417.3 1357.8 1415.1C1360.3 1412.8 1362.6 1410.4 1364.9 1408C1367.2 1405.5 1369.4 1403 1371.5 1400.5C1373.6 1397.9 1375.7 1395.3 1377.7 1392.6C1379.7 1389.9 1381.7 1387.3 1383.6 1384.5C1385.6 1381.8 1387.5 1379.1 1389.4 1376.4C1391.4 1373.7 1393.3 1371 1395.3 1368.3C1397.3 1365.7 1399.4 1363 1401.5 1360.4C1403.5 1357.8 1405.7 1355.1 1407.9 1352.6C1410.1 1350.1 1412.5 1347.7 1415.2 1345.6C1417.8 1343.6 1420.8 1341.8 1424 1341.1C1427.2 1340.4 1430.6 1341.3 1433.9 1341.9C1437.2 1342.4 1440.3 1341.9 1442.8 1339.9C1445.3 1337.8 1447.1 1334.9 1448.4 1331.7C1449.7 1328.6 1450.6 1325.2 1451.4 1321.9C1452.2 1318.6 1452.8 1315.4 1453.4 1312.1C1454.1 1308.8 1454.6 1305.5 1455.2 1302.2C1455.8 1298.9 1456.3 1295.6 1456.8 1292.3C1457.4 1289.1 1457.9 1285.8 1458.4 1282.5C1458.9 1279.2 1459.3 1275.9 1459.8 1272.6C1460.3 1269.3 1460.7 1266 1461.2 1262.7C1461.6 1259.4 1462 1256 1462.4 1252.7C1462.8 1249.4 1463.2 1246.1 1463.6 1242.8C1464 1239.5 1464.3 1236.2 1464.7 1232.9C1465 1229.5 1465.4 1226.2 1465.7 1222.9C1466.1 1219.6 1466.4 1216.3 1466.7 1212.9C1467 1209.6 1467.3 1206.3 1467.6 1203C1467.9 1199.6 1468.2 1196.3 1468.5 1193C1468.8 1189.7 1469.1 1186.4 1469.4 1183C1469.7 1179.7 1470 1176.4 1470.3 1173.1C1470.6 1169.7 1470.9 1166.4 1471.2 1163.1C1471.5 1159.8 1471.8 1156.5 1472.1 1153.1C1472.5 1149.8 1472.8 1146.5 1473.1 1143.2C1473.4 1139.8 1473.7 1136.5 1474 1133.2C1474.3 1129.9 1474.6 1126.6 1474.9 1123.2C1475.2 1119.9 1475.5 1116.6 1475.8 1113.3C1476.1 1109.9 1476.4 1106.6 1476.7 1103.3C1477 1100 1477.3 1096.7 1477.6 1093.3C1477.9 1090 1478.2 1086.7 1478.5 1083.4C1478.9 1080.1 1479.2 1076.7 1479.5 1073.4C1479.8 1070.1 1480.1 1066.8 1480.4 1063.4C1480.7 1060.1 1481.1 1056.8 1481.4 1053.5C1481.7 1050.2 1482.1 1046.8 1482.4 1043.5C1482.8 1040.2 1483.2 1036.9 1483.5 1033.6C1483.9 1030.3 1484.3 1027 1484.7 1023.6C1485.1 1020.3 1485.5 1017 1485.9 1013.7C1486.3 1010.4 1486.7 1007.1 1487.1 1003.8C1487.6 1000.5 1488 997.2 1488.4 993.9C1488.9 990.5 1489.3 987.2 1489.8 983.9C1490.3 980.6 1490.8 977.3 1491.3 974C1491.8 970.7 1492.3 967.4 1492.8 964.1C1493.4 960.9 1494 957.6 1494.7 954.3C1495.3 951 1496 947.7 1496.8 944.5C1497.6 941.2 1498.5 938 1499.6 934.8C1500.7 931.7 1502 928.5 1503.7 925.7C1505.4 922.9 1507.6 920.4 1510.2 918.3C1512.8 916.3 1515.8 914.6 1518.6 912.8C1521.4 911 1524 908.9 1526.4 906.7C1528.9 904.4 1531.1 902 1533.4 899.5C1535.7 897.1 1537.9 894.6 1540.2 892.1C1542.4 889.7 1544.7 887.2 1546.9 884.7C1549.1 882.1 1551.2 879.6 1553.3 877C1555.4 874.4 1557.5 871.8 1559.6 869.2C1561.8 866.7 1564.1 864.2 1566.5 861.9C1569 859.6 1571.7 857.5 1574.6 855.9C1577.5 854.2 1580.7 853.2 1584 853.4C1587.3 853.6 1590.5 854.8 1593.5 856.4C1596.4 858.1 1599 860.3 1601.3 862.7C1603.6 865.1 1605.7 867.7 1607.7 870.4C1609.7 873.1 1611.5 875.9 1613.3 878.7C1615.1 881.5 1616.8 884.4 1618.5 887.3C1620.1 890.2 1621.7 893.1 1623.3 896.1C1624.8 899.1 1626.2 902.1 1627.7 905.1C1629.1 908.1 1630.5 911.1 1631.9 914.2C1633.3 917.2 1634.6 920.3 1635.9 923.3C1637.3 926.4 1638.6 929.4 1639.9 932.5C1641.2 935.6 1642.5 938.7 1643.9 941.7C1645.2 944.8 1646.5 947.9 1647.7 950.9C1649 954 1650.3 957.1 1651.6 960.2C1652.9 963.2 1654.2 966.3 1655.5 969.4C1656.8 972.5 1658.1 975.5 1659.4 978.6C1660.7 981.7 1662 984.8 1663.3 987.8C1664.6 990.9 1665.9 994 1667.2 997.1C1668.5 1000.1 1669.8 1003.2 1671.1 1006.3C1672.4 1009.3 1673.7 1012.4 1675 1015.5C1676.3 1018.5 1677.7 1021.6 1679 1024.7C1680.3 1027.7 1681.6 1030.8 1683 1033.8C1684.3 1036.9 1685.7 1039.9 1687 1043C1688.4 1046 1689.8 1049.1 1691.1 1052.1C1692.5 1055.2 1693.9 1058.2 1695.3 1061.2C1696.7 1064.3 1698.1 1067.3 1699.5 1070.3C1700.9 1073.3 1702.3 1076.3 1703.8 1079.4C1705.2 1082.4 1706.7 1085.4 1708.1 1088.4C1709.6 1091.4 1711.1 1094.4 1712.6 1097.3C1714.1 1100.3 1715.6 1103.3 1717.1 1106.3C1718.6 1109.2 1720.1 1112.2 1721.7 1115.2C1723.2 1118.1 1724.8 1121.1 1726.4 1124C1728 1126.9 1729.6 1129.9 1731.2 1132.8C1732.8 1135.7 1734.5 1138.6 1736.1 1141.5C1737.8 1144.4 1739.5 1147.3 1741.2 1150.2C1742.8 1153 1744.6 1155.9 1746.3 1158.8C1748 1161.6 1749.8 1164.4 1751.6 1167.3C1753.4 1170.1 1755.2 1172.9 1757 1175.7C1758.8 1178.5 1760.6 1181.3 1762.5 1184C1764.4 1186.8 1766.3 1189.6 1768.2 1192.3C1770.1 1195 1772 1197.7 1774 1200.4C1776 1203.1 1778 1205.8 1780 1208.5C1782 1211.1 1784 1213.8 1786.1 1216.4C1788.1 1219 1790.2 1221.6 1792.3 1224.2C1794.4 1226.8 1796.6 1229.4 1798.7 1231.9C1800.9 1234.5 1803.1 1237 1805.3 1239.5C1807.5 1242 1809.8 1244.5 1812 1246.9C1814.3 1249.4 1816.6 1251.8 1818.9 1254.2C1821.2 1256.6 1823.6 1259 1826 1261.3C1828.3 1263.6 1830.8 1266 1833.2 1268.2C1835.6 1270.5 1838.1 1272.8 1840.6 1275C1843 1277.2 1845.6 1279.4 1848.1 1281.6C1850.7 1283.8 1853.2 1285.9 1855.8 1288C1858.4 1290.1 1861 1292.2 1863.7 1294.2C1866.4 1296.2 1869 1298.2 1871.7 1300.1C1874.5 1302.1 1877.2 1304 1880 1305.9C1882.7 1307.7 1885.5 1309.6 1888.3 1311.3C1891.1 1313.1 1894 1314.9 1896.9 1316.6C1899.7 1318.3 1902.6 1320 1905.5 1321.6C1908.4 1323.3 1911.3 1324.9 1914.3 1326.4C1917.2 1328 1920.2 1329.5 1923.2 1331C1926.2 1332.5 1929.2 1334 1932.2 1335.4C1935.2 1336.8 1938.3 1338.2 1941.3 1339.6C1944.4 1340.9 1947.4 1342.3 1950.5 1343.6C1953.6 1344.9 1956.7 1346.1 1959.8 1347.4C1962.8 1348.6 1966 1349.8 1969.1 1351C1972.2 1352.2 1975.3 1353.3 1978.5 1354.5C1981.6 1355.6 1984.8 1356.7 1987.9 1357.8C1991.1 1358.9 1994.2 1359.9 1997.4 1361C2000.6 1362 2003.7 1363 2006.9 1364C2010.1 1365 2013.3 1366 2016.5 1366.9C2019.7 1367.9 2022.9 1368.8 2026.1 1369.7C2029.3 1370.7 2032.5 1371.6 2035.8 1372.4C2039 1373.3 2042.2 1374.2 2045.4 1375C2048.7 1375.8 2051.9 1376.6 2055.1 1377.4C2058.4 1378.2 2061.6 1379 2064.9 1379.8C2068.1 1380.5 2071.4 1381.3 2074.6 1382C2077.9 1382.7 2081.1 1383.4 2084.4 1384.1C2087.7 1384.8 2090.9 1385.5 2094.2 1386.1C2097.5 1386.7 2100.8 1387.4 2104.1 1388C2107.3 1388.6 2110.6 1389.2 2113.9 1389.7C2117.2 1390.3 2120.5 1390.9 2123.8 1391.4C2127.1 1391.9 2130.4 1392.4 2133.7 1392.9C2137 1393.4 2140.3 1393.9 2143.6 1394.4C2146.9 1394.8 2150.2 1395.3 2153.5 1395.7C2156.8 1396.1 2160.1 1396.5 2163.4 1396.9C2166.7 1397.3 2170.1 1397.7 2173.4 1398C2176.7 1398.4 2180 1398.8 2183.3 1399.1C2186.6 1399.5 2190 1399.8 2193.3 1400.1C2196.6 1400.4 2199.9 1400.8 2203.2 1401.1C2206.6 1401.4 2209.9 1401.7 2213.2 1402C2216.5 1402.2 2219.9 1402.5 2223.2 1402.7C2226.5 1402.9 2229.9 1403.1 2233.2 1403.2C2236.5 1403.3 2239.9 1403.4 2243.2 1403.5C2246.5 1403.6 2249.9 1403.6 2253.2 1403.6C2256.5 1403.6 2259.9 1403.6 2263.2 1403.6"/>
<g transform="scale(1 1.03)">
<path class="rd" style="stroke-dasharray:27.2 37.9;stroke-dashoffset:62.7" d="M396.1 2086.4C399.4 2086.5 402.8 2086.7 406.1 2086.8C409.5 2087 412.8 2087.1 416.2 2087.3C419.5 2087.4 422.9 2087.6 426.2 2087.7C429.6 2087.9 432.9 2088.1 436.3 2088.2C439.6 2088.4 443 2088.6 446.3 2088.8C449.7 2089 453 2089.2 456.4 2089.4C459.7 2089.6 463.1 2089.8 466.4 2090C469.7 2090.3 473.1 2090.5 476.4 2090.8C479.8 2091 483.1 2091.3 486.4 2091.6C489.8 2091.8 493.1 2092.1 496.5 2092.4C499.8 2092.7 503.1 2093.1 506.5 2093.4C509.8 2093.7 513.1 2094.1 516.5 2094.5C519.8 2094.8 523.1 2095.2 526.5 2095.6C529.8 2096 533.1 2096.5 536.4 2096.9C539.8 2097.4 543.1 2097.9 546.4 2098.3C549.7 2098.8 553 2099.4 556.3 2099.9C559.6 2100.4 562.9 2101 566.2 2101.6C569.5 2102.2 572.8 2102.8 576.1 2103.4C579.4 2104 582.7 2104.7 586 2105.4C589.3 2106.1 592.6 2106.8 595.8 2107.5C599.1 2108.2 602.4 2109 605.6 2109.8C608.9 2110.6 612.2 2111.4 615.4 2112.2C618.7 2113.1 621.9 2113.9 625.1 2114.8C628.4 2115.7 631.6 2116.6 634.8 2117.6C638 2118.5 641.2 2119.5 644.4 2120.5C647.6 2121.5 650.8 2122.6 654 2123.7C657.2 2124.7 660.3 2125.9 663.5 2127C666.6 2128.2 669.8 2129.3 672.9 2130.6C676 2131.8 679.1 2133.1 682.2 2134.4C685.3 2135.7 688.4 2137 691.4 2138.4C694.5 2139.8 697.5 2141.2 700.5 2142.6C703.6 2144.1 706.6 2145.6 709.5 2147.1C712.5 2148.7 715.5 2150.3 718.4 2151.9C721.3 2153.5 724.3 2155.2 727.1 2156.9C730 2158.6 732.9 2160.3 735.7 2162.1C738.6 2163.9 741.4 2165.7 744.1 2167.6C746.9 2169.5 749.7 2171.4 752.4 2173.3C755.1 2175.3 757.8 2177.3 760.4 2179.3C763.1 2181.4 765.7 2183.5 768.3 2185.6C770.8 2187.7 773.4 2189.9 775.9 2192.1C778.4 2194.3 780.9 2196.6 783.3 2198.9C785.7 2201.2 788.1 2203.5 790.4 2205.9C792.8 2208.3 795.1 2210.7 797.4 2213.2C799.6 2215.6 801.9 2218.1 804.1 2220.7C806.3 2223.2 808.5 2225.7 810.6 2228.3C812.7 2230.9 814.8 2233.5 816.9 2236.2C819 2238.8 821 2241.5 823 2244.2C825.1 2246.9 827 2249.6 829 2252.3C831 2255 832.9 2257.8 834.8 2260.6C836.7 2263.3 838.5 2266.1 840.4 2268.9C842.2 2271.7 844 2274.6 845.8 2277.4C847.6 2280.3 849.3 2283.1 851 2286C852.7 2288.9 854.4 2291.8 856 2294.7C857.7 2297.7 859.3 2300.6 860.9 2303.6C862.4 2306.5 864 2309.5 865.5 2312.5C867 2315.5 868.5 2318.5 869.9 2321.5C871.3 2324.5 872.7 2327.6 874.1 2330.6C875.5 2333.7 876.9 2336.8 878.2 2339.8C879.5 2342.9 880.8 2346 882.1 2349.1C883.4 2352.2 884.6 2355.3 885.8 2358.5C887.1 2361.6 888.3 2364.7 889.5 2367.8C890.6 2371 891.8 2374.1 892.9 2377.3C894.1 2380.4 895.2 2383.6 896.3 2386.8C897.4 2389.9 898.5 2393.1 899.6 2396.3C900.6 2399.5 901.7 2402.6 902.7 2405.8C903.7 2409 904.7 2412.2 905.7 2415.4C906.7 2418.6 907.6 2421.9 908.6 2425.1C909.5 2428.3 910.4 2431.5 911.3 2434.7C912.2 2438 913.1 2441.2 914 2444.4C914.9 2447.7 915.7 2450.9 916.6 2454.2"/>
<path class="rd" style="stroke-dasharray:28.5 39.7;stroke-dashoffset:33.1" d="M916.6 2454.2C917.4 2457.4 918.2 2460.7 919 2463.9C919.8 2467.2 920.6 2470.4 921.4 2473.7C922.2 2476.9 923 2480.2 923.7 2483.5C924.5 2486.7 925.2 2490 926 2493.3C926.7 2496.5 927.5 2499.8 928.2 2503.1C928.9 2506.3 929.6 2509.6 930.3 2512.9C931.1 2516.2 931.8 2519.4 932.5 2522.7C933.1 2526 933.8 2529.3 934.5 2532.6C935.2 2535.8 935.9 2539.1 936.6 2542.4C937.2 2545.7 937.9 2549 938.5 2552.3C939.2 2555.6 939.9 2558.8 940.5 2562.1C941.1 2565.4 941.8 2568.7 942.4 2572C943.1 2575.3 943.7 2578.6 944.3 2581.9C944.9 2585.2 945.6 2588.5 946.2 2591.7C946.8 2595 947.4 2598.3 948 2601.6C948.6 2604.9 949.3 2608.2 949.9 2611.5C950.5 2614.8 951.1 2618.1 951.7 2621.4C952.3 2624.7 952.9 2628 953.5 2631.3C954.1 2634.6 954.7 2637.9 955.3 2641.2C955.9 2644.5 956.5 2647.8 957.1 2651.1C957.7 2654.4 958.3 2657.7 958.9 2661C959.5 2664.3 960.1 2667.6 960.7 2670.9C961.3 2674.1 961.9 2677.4 962.5 2680.7C963.1 2684 963.7 2687.3 964.3 2690.6C964.9 2693.9 965.5 2697.2 966 2700.5C966.6 2703.8 967.2 2707.1 967.8 2710.4C968.4 2713.7 969 2717 969.6 2720.3C970.2 2723.6 970.8 2726.9 971.4 2730.2C972 2733.5 972.6 2736.8 973.2 2740.1C973.9 2743.4 974.5 2746.7 975.1 2750C975.8 2753.3 976.4 2756.5 977.1 2759.8C977.7 2763.1 978.4 2766.4 979.1 2769.7C979.8 2772.9 980.5 2776.2 981.2 2779.5C981.9 2782.7 982.6 2786 983.4 2789.3C984.1 2792.5 984.9 2795.8 985.7 2799C986.5 2802.3 987.3 2805.6 988.1 2808.8C988.9 2812.1 989.7 2815.3 990.5 2818.5"/>
<path class="rd" style="stroke-dasharray:28.4 39.6;stroke-dashoffset:64" d="M990.5 2818.5L1006.5 2828.4"/>
<path class="rd" style="stroke-dasharray:28.4 39.6;stroke-dashoffset:36" d="M1011.2 2817C1012.5 2813.9 1013.9 2810.8 1015.2 2807.6C1016.5 2804.5 1017.8 2801.4 1019 2798.2C1020.2 2795 1021.4 2791.9 1022.5 2788.7C1023.6 2785.5 1024.6 2782.2 1025.5 2779C1026.5 2775.7 1027.3 2772.5 1028.1 2769.2C1028.9 2765.9 1029.7 2762.6 1030.4 2759.3C1031.1 2756 1031.7 2752.6 1032.3 2749.3C1032.9 2746 1033.5 2742.6 1034 2739.3C1034.5 2735.9 1035 2732.5 1035.5 2729.2C1035.9 2725.8 1036.4 2722.4 1036.8 2719C1037.2 2715.7 1037.6 2712.3 1038 2708.9C1038.4 2705.5 1038.8 2702.1 1039.2 2698.7C1039.6 2695.3 1040 2692 1040.4 2688.6C1040.8 2685.2 1041.2 2681.8 1041.5 2678.4C1041.9 2675 1042.3 2671.6 1042.7 2668.2C1043.1 2664.9 1043.5 2661.5 1043.9 2658.1C1044.3 2654.7 1044.7 2651.3 1045.1 2647.9C1045.5 2644.5 1045.9 2641.2 1046.3 2637.8C1046.8 2634.4 1047.2 2631 1047.6 2627.7C1048.1 2624.3 1048.5 2620.9 1049 2617.5C1049.5 2614.2 1049.9 2610.8 1050.4 2607.4C1050.9 2604 1051.4 2600.7 1051.9 2597.3C1052.4 2593.9 1052.9 2590.6 1053.4 2587.2C1054 2583.8 1054.5 2580.5 1055.1 2577.1C1055.6 2573.7 1056.2 2570.4 1056.7 2567C1057.3 2563.6 1057.9 2560.3 1058.5 2556.9C1059.1 2553.5 1059.7 2550.2 1060.3 2546.8C1061 2543.5 1061.6 2540.1 1062.3 2536.7C1063 2533.4 1063.6 2530 1064.4 2526.7C1065.1 2523.3 1065.8 2520 1066.6 2516.6C1067.3 2513.3 1068.1 2509.9 1068.9 2506.6C1069.7 2503.2 1070.6 2499.9 1071.5 2496.6C1072.4 2493.3 1073.3 2490 1074.3 2486.7C1075.3 2483.4 1076.4 2480.1 1077.6 2477C1078.8 2473.8 1080.1 2470.7 1081.7 2467.8C1083.2 2464.8 1084.9 2462 1086.8 2459.3C1088.8 2456.7 1090.9 2454.2 1093.3 2451.9C1095.7 2449.6 1098.3 2447.4 1101 2445.4C1103.7 2443.4 1106.6 2441.5 1109.4 2439.6"/>
<path class="rd" style="stroke-dasharray:28.6 39.9;stroke-dashoffset:27.8" d="M1109.4 2439.6C1112.7 2440 1116.1 2440.3 1119.4 2440.7C1122.8 2441.1 1126.1 2441.5 1129.4 2441.9C1132.8 2442.3 1136.1 2442.7 1139.4 2443.2C1142.7 2443.7 1146 2444.3 1149.3 2444.9C1152.6 2445.4 1155.9 2446.1 1159.2 2446.7C1162.5 2447.3 1165.8 2447.9 1169.1 2448.6C1172.4 2449.2 1175.7 2449.7 1179 2450.2C1182.3 2450.7 1185.6 2451.2 1188.9 2451.6C1192.2 2452 1195.6 2452.4 1198.9 2452.7C1202.2 2453 1205.6 2453.3 1208.9 2453.5C1212.3 2453.7 1215.6 2453.9 1219 2454.1C1222.3 2454.2 1225.7 2454.3 1229.1 2454.4C1232.4 2454.5 1235.8 2454.6 1239.2 2454.6C1242.5 2454.6 1245.9 2454.7 1249.3 2454.7C1252.6 2454.7 1256 2454.6 1259.4 2454.6C1262.8 2454.6 1266.1 2454.5 1269.5 2454.5C1272.9 2454.4 1276.3 2454.4 1279.6 2454.3C1283 2454.2 1286.4 2454.2 1289.8 2454.1C1293.1 2454.1 1296.5 2454 1299.9 2454C1303.3 2453.9 1306.7 2453.9 1310 2453.9C1313.4 2453.9 1316.8 2453.9 1320.2 2453.9C1323.6 2453.9 1326.9 2453.9 1330.3 2453.9C1333.7 2453.9 1337.1 2453.9 1340.5 2453.9C1343.8 2454 1347.2 2454 1350.6 2454.1C1354 2454.1 1357.3 2454.2 1360.7 2454.2C1364.1 2454.3 1367.5 2454.3 1370.9 2454.4C1374.2 2454.5 1377.6 2454.5 1381 2454.6C1384.4 2454.7 1387.8 2454.8 1391.1 2454.8C1394.5 2454.9 1397.9 2454.9 1401.3 2455C1404.6 2455 1408 2455 1411.4 2455C1414.8 2455 1418.1 2455 1421.5 2455C1424.9 2454.9 1428.2 2454.9 1431.6 2454.8C1435 2454.7 1438.3 2454.5 1441.7 2454.3C1445 2454.2 1448.4 2454 1451.7 2453.7C1455.1 2453.5 1458.4 2453.2 1461.8 2452.8C1465.1 2452.5 1468.5 2452.1 1471.8 2451.7C1475.1 2451.2 1478.4 2450.8 1481.8 2450.2C1485.1 2449.7 1488.4 2449.1 1491.7 2448.5C1495 2447.8 1498.3 2447.2 1501.5 2446.4C1504.8 2445.7 1508.1 2444.9 1511.4 2444.1C1514.7 2443.3 1517.9 2442.5 1521.2 2441.7C1524.5 2440.8 1527.7 2439.9 1531 2439.1C1534.2 2438.2 1537.5 2437.3 1540.7 2436.3C1544 2435.4 1547.2 2434.5 1550.5 2433.6"/>
<path class="rd" style="stroke-dasharray:28.7 40;stroke-dashoffset:57.1" d="M1550.5 2433.6C1552.7 2436.2 1554.9 2438.8 1557.1 2441.4C1559.2 2444 1561.3 2446.6 1563.4 2449.3C1565.4 2452 1567.4 2454.7 1569.2 2457.5C1571 2460.2 1572.8 2463.1 1574.3 2466C1575.9 2468.9 1577.3 2471.9 1578.7 2475C1580 2478 1581.2 2481.1 1582.3 2484.3C1583.4 2487.4 1584.5 2490.6 1585.4 2493.9C1586.4 2497.1 1587.3 2500.3 1588.2 2503.6C1589.1 2506.9 1589.9 2510.2 1590.7 2513.5C1591.5 2516.8 1592.2 2520.1 1592.9 2523.4C1593.6 2526.7 1594.3 2530 1595 2533.3C1595.7 2536.7 1596.3 2540 1596.9 2543.3C1597.5 2546.7 1598.1 2550 1598.7 2553.4C1599.3 2556.7 1599.8 2560.1 1600.4 2563.4C1601 2566.7 1601.5 2570.1 1602 2573.4C1602.6 2576.8 1603.1 2580.1 1603.6 2583.5C1604.1 2586.8 1604.6 2590.2 1605.1 2593.5C1605.7 2596.9 1606.2 2600.2 1606.7 2603.6C1607.2 2606.9 1607.6 2610.3 1608.1 2613.6C1608.6 2617 1609.1 2620.3 1609.6 2623.6C1610.1 2627 1610.6 2630.3 1611.1 2633.7C1611.6 2637 1612.1 2640.4 1612.6 2643.7C1613.1 2647 1613.6 2650.4 1614.1 2653.7C1614.6 2657.1 1615.1 2660.4 1615.6 2663.7C1616.1 2667.1 1616.6 2670.4 1617.1 2673.8C1617.6 2677.1 1618.1 2680.5 1618.6 2683.8C1619.1 2687.1 1619.6 2690.5 1620.1 2693.8C1620.6 2697.2 1621.1 2700.5 1621.6 2703.8C1622.1 2707.2 1622.6 2710.5 1623.1 2713.9C1623.6 2717.2 1624.2 2720.5 1624.7 2723.9C1625.2 2727.2 1625.7 2730.6 1626.3 2733.9C1626.8 2737.2 1627.4 2740.6 1627.9 2743.9C1628.5 2747.2 1629.1 2750.5 1629.7 2753.9C1630.3 2757.2 1630.9 2760.5 1631.5 2763.8C1632.1 2767.1 1632.8 2770.5 1633.4 2773.8C1634.1 2777.1 1634.8 2780.4 1635.5 2783.7C1636.2 2787 1636.9 2790.3 1637.7 2793.6C1638.4 2796.9 1639.2 2800.1 1640 2803.4C1640.8 2806.7 1641.6 2810 1642.4 2813.3C1643.2 2816.5 1644 2819.8 1644.9 2823.1C1645.7 2826.4 1646.6 2829.6 1647.4 2832.9"/>
<path class="rd" style="stroke-dasharray:28.4 39.6;stroke-dashoffset:64" d="M1647.4 2832.9L1670.4 2813.6"/>
<path class="rd" style="stroke-dasharray:28.6 39.8;stroke-dashoffset:33.2" d="M1672.2 2804.9C1672.9 2801.6 1673.6 2798.3 1674.4 2795.1C1675.1 2791.8 1675.8 2788.6 1676.5 2785.3C1677.2 2782.1 1677.9 2778.8 1678.6 2775.5C1679.4 2772.3 1680.1 2769 1680.8 2765.8C1681.5 2762.5 1682.2 2759.2 1682.8 2756C1683.5 2752.7 1684.2 2749.5 1684.9 2746.2C1685.5 2742.9 1686.2 2739.7 1686.8 2736.4C1687.5 2733.1 1688.1 2729.8 1688.7 2726.6C1689.3 2723.3 1690 2720 1690.6 2716.7C1691.2 2713.4 1691.8 2710.2 1692.4 2706.9C1693 2703.6 1693.6 2700.3 1694.2 2697C1694.8 2693.8 1695.4 2690.5 1696 2687.2C1696.6 2683.9 1697.2 2680.6 1697.7 2677.3C1698.3 2674.1 1698.9 2670.8 1699.5 2667.5C1700.1 2664.2 1700.7 2660.9 1701.3 2657.7C1701.9 2654.4 1702.5 2651.1 1703.1 2647.8C1703.7 2644.5 1704.3 2641.2 1704.9 2638C1705.5 2634.7 1706.1 2631.4 1706.7 2628.1C1707.3 2624.8 1707.9 2621.5 1708.5 2618.3C1709.1 2615 1709.7 2611.7 1710.3 2608.4C1710.9 2605.1 1711.6 2601.9 1712.2 2598.6C1712.8 2595.3 1713.4 2592 1714.1 2588.8C1714.7 2585.5 1715.4 2582.2 1716 2578.9C1716.6 2575.7 1717.3 2572.4 1717.9 2569.1C1718.6 2565.9 1719.3 2562.6 1719.9 2559.3C1720.6 2556.1 1721.3 2552.8 1722 2549.5C1722.7 2546.3 1723.3 2543 1724 2539.7C1724.7 2536.5 1725.5 2533.2 1726.2 2530C1726.9 2526.7 1727.6 2523.4 1728.4 2520.2C1729.1 2516.9 1729.8 2513.7 1730.6 2510.4C1731.3 2507.2 1732.1 2503.9 1732.8 2500.7C1733.6 2497.4 1734.3 2494.2 1735.1 2490.9C1735.9 2487.7 1736.7 2484.4 1737.5 2481.2C1738.2 2478 1739 2474.7 1739.8 2471.5C1740.7 2468.2 1741.5 2465 1742.3 2461.8C1743.1 2458.5 1744 2455.3 1744.8 2452.1C1745.6 2448.8 1746.5 2445.6 1747.4 2442.4C1748.3 2439.2 1749.1 2436 1750 2432.7C1750.9 2429.5 1751.8 2426.3 1752.8 2423.1C1753.7 2419.9 1754.6 2416.7 1755.6 2413.5C1756.6 2410.3 1757.5 2407.1 1758.5 2403.9C1759.5 2400.7 1760.5 2397.6 1761.6 2394.4"/>
<path class="rd" style="stroke-dasharray:27.9 38.8;stroke-dashoffset:46.4" d="M1761.6 2394.4C1762.6 2391.2 1763.7 2388 1764.7 2384.9C1765.8 2381.7 1766.9 2378.6 1768 2375.4C1769.1 2372.3 1770.3 2369.1 1771.5 2366C1772.6 2362.9 1773.8 2359.8 1775 2356.7C1776.2 2353.5 1777.5 2350.4 1778.8 2347.4C1780 2344.3 1781.3 2341.2 1782.7 2338.1C1784 2335.1 1785.3 2332 1786.7 2328.9C1788.1 2325.9 1789.5 2322.9 1790.9 2319.8C1792.3 2316.8 1793.8 2313.8 1795.3 2310.8C1796.8 2307.8 1798.3 2304.8 1799.8 2301.9C1801.3 2298.9 1802.9 2296 1804.5 2293C1806.1 2290.1 1807.7 2287.2 1809.4 2284.3C1811 2281.4 1812.7 2278.5 1814.4 2275.6C1816.1 2272.7 1817.9 2269.9 1819.7 2267.1C1821.5 2264.3 1823.3 2261.5 1825.2 2258.7C1827 2256 1829 2253.2 1830.9 2250.5C1832.8 2247.8 1834.8 2245.2 1836.9 2242.5C1838.9 2239.9 1841 2237.3 1843.1 2234.7C1845.2 2232.1 1847.4 2229.6 1849.6 2227.1C1851.8 2224.6 1854 2222.1 1856.3 2219.6C1858.5 2217.2 1860.8 2214.8 1863.2 2212.4C1865.5 2210.1 1867.9 2207.7 1870.3 2205.4C1872.8 2203.1 1875.2 2200.9 1877.7 2198.7C1880.2 2196.5 1882.7 2194.3 1885.3 2192.1C1887.8 2190 1890.4 2187.9 1893 2185.8C1895.7 2183.8 1898.3 2181.7 1901 2179.7C1903.7 2177.7 1906.4 2175.8 1909.1 2173.9C1911.9 2172 1914.6 2170.1 1917.4 2168.3C1920.2 2166.4 1923 2164.6 1925.8 2162.9C1928.7 2161.1 1931.5 2159.4 1934.4 2157.7C1937.3 2156 1940.2 2154.4 1943.2 2152.8C1946.1 2151.1 1949 2149.6 1952 2148C1955 2146.5 1957.9 2145 1960.9 2143.6C1964 2142.1 1967 2140.7 1970 2139.3C1973.1 2137.9 1976.1 2136.5 1979.2 2135.2C1982.2 2133.9 1985.3 2132.6 1988.4 2131.4C1991.5 2130.1 1994.6 2128.9 1997.8 2127.7C2000.9 2126.5 2004 2125.4 2007.2 2124.3C2010.3 2123.1 2013.5 2122.1 2016.6 2121C2019.8 2119.9 2023 2118.9 2026.2 2117.9C2029.4 2116.9 2032.6 2116 2035.8 2115C2039 2114.1 2042.2 2113.2 2045.4 2112.3C2048.6 2111.4 2051.9 2110.6 2055.1 2109.8C2058.3 2109 2061.6 2108.2 2064.8 2107.4C2068.1 2106.7 2071.3 2105.9 2074.6 2105.2C2077.9 2104.5 2081.1 2103.8 2084.4 2103.2C2087.7 2102.5 2091 2101.9 2094.2 2101.3C2097.5 2100.7 2100.8 2100.1 2104.1 2099.5C2107.4 2099 2110.7 2098.4 2114 2097.9C2117.3 2097.4 2120.6 2096.9 2123.9 2096.5C2127.2 2096 2130.5 2095.6 2133.8 2095.2C2137.1 2094.8 2140.4 2094.4 2143.8 2094C2147.1 2093.6 2150.4 2093.3 2153.7 2092.9C2157 2092.6 2160.4 2092.3 2163.7 2092C2167 2091.7 2170.3 2091.4 2173.7 2091.1C2177 2090.9 2180.3 2090.6 2183.6 2090.4C2187 2090.2 2190.3 2089.9 2193.6 2089.7C2197 2089.5 2200.3 2089.3 2203.6 2089.2C2207 2089 2210.3 2088.8 2213.6 2088.6C2217 2088.5 2220.3 2088.3 2223.6 2088.2C2227 2088.1 2230.3 2087.9 2233.6 2087.8C2237 2087.7 2240.3 2087.6 2243.6 2087.5C2247 2087.4 2250.3 2087.3 2253.7 2087.2C2257 2087.1 2260.3 2087 2263.7 2087C2267 2086.9 2270.3 2086.8 2273.7 2086.8C2277 2086.7 2280.4 2086.6 2283.7 2086.6C2287 2086.5 2290.4 2086.5 2293.7 2086.4"/>
</g>
<path class="bk" d="M396.1 2026.5C399.3 2027.3 402.6 2028.1 405.8 2028.9C409.1 2029.8 412.3 2030.6 415.5 2031.5C418.7 2032.4 422 2033.3 425.2 2034.3C428.4 2035.3 431.5 2036.3 434.7 2037.4C437.9 2038.4 441 2039.6 444.1 2040.7C447.3 2041.9 450.4 2043.2 453.4 2044.5C456.5 2045.7 459.6 2047.1 462.6 2048.5C465.6 2049.9 468.6 2051.4 471.6 2053C474.5 2054.5 477.5 2056.1 480.4 2057.8C483.3 2059.4 486.1 2061.1 489 2062.9C491.8 2064.7 494.6 2066.5 497.4 2068.4C500.1 2070.3 502.9 2072.2 505.6 2074.2C508.3 2076.2 510.9 2078.2 513.5 2080.3C516.2 2082.3 518.8 2084.4 521.3 2086.6C523.9 2088.7 526.4 2090.9 528.9 2093.2C531.4 2095.4 533.8 2097.7 536.2 2100C538.7 2102.3 541.1 2104.6 543.4 2107C545.8 2109.4 548.1 2111.8 550.4 2114.2C552.7 2116.6 554.9 2119.1 557.2 2121.6C559.4 2124.1 561.6 2126.6 563.7 2129.2C565.9 2131.7 568 2134.3 570.1 2136.9C572.2 2139.6 574.2 2142.2 576.2 2144.9C578.2 2147.6 580.2 2150.3 582.1 2153C584 2155.7 585.9 2158.5 587.8 2161.2C589.7 2164 591.5 2166.8 593.3 2169.6C595.1 2172.4 596.9 2175.2 598.6 2178.1C600.3 2180.9 602 2183.8 603.6 2186.7C605.3 2189.7 606.9 2192.6 608.5 2195.5C610 2198.5 611.6 2201.4 613.1 2204.4C614.6 2207.4 616.2 2210.4 617.7 2213.3C619.2 2216.3 620.7 2219.3 622.2 2222.3C623.7 2225.3 625.2 2228.3 626.7 2231.3C628.1 2234.3 629.6 2237.3 631.1 2240.3C632.6 2243.3 634 2246.3 635.5 2249.3C636.9 2252.3 638.4 2255.3 639.8 2258.3C641.2 2261.3 642.6 2264.4 644 2267.4C645.4 2270.4 646.8 2273.5 648.2 2276.5C649.6 2279.6 650.9 2282.6 652.3 2285.7C653.6 2288.7 654.9 2291.8 656.2 2294.9C657.6 2297.9 658.8 2301 660.1 2304.1C661.4 2307.2 662.7 2310.3 663.9 2313.4C665.2 2316.5 666.4 2319.6 667.6 2322.7C668.8 2325.8 670.1 2328.9 671.2 2332C672.4 2335.2 673.6 2338.3 674.7 2341.4C675.9 2344.6 677 2347.7 678.2 2350.8C679.3 2354 680.4 2357.1 681.5 2360.3C682.6 2363.4 683.7 2366.6 684.8 2369.8C685.9 2372.9 686.9 2376.1 688 2379.3C689 2382.4 690.1 2385.6 691.1 2388.8C692.1 2392 693.2 2395.1 694.2 2398.3C695.2 2401.5 696.2 2404.7 697.2 2407.9C698.2 2411 699.2 2414.2 700.2 2417.4C701.2 2420.6 702.2 2423.8 703.1 2427C704.1 2430.2 705.1 2433.4 706 2436.6C707 2439.8 707.9 2443 708.9 2446.2C709.8 2449.4 710.8 2452.6 711.7 2455.8C712.6 2459 713.6 2462.2 714.5 2465.5C715.4 2468.7 716.3 2471.9 717.2 2475.1C718.1 2478.3 719 2481.5 719.9 2484.8C720.8 2488 721.7 2491.2 722.6 2494.4C723.5 2497.6 724.3 2500.9 725.2 2504.1C726.1 2507.3 726.9 2510.5 727.8 2513.8C728.7 2517 729.5 2520.2 730.4 2523.4C731.2 2526.7 732.1 2529.9 732.9 2533.1C733.8 2536.4 734.6 2539.6 735.5 2542.8C736.3 2546.1 737.1 2549.3 738 2552.5C738.8 2555.8 739.6 2559 740.4 2562.2C741.3 2565.5 742.1 2568.7 742.9 2572C743.7 2575.2 744.5 2578.4 745.3 2581.7C746.1 2584.9 746.9 2588.2 747.7 2591.4C748.5 2594.7 749.3 2597.9 750.1 2601.2C750.8 2604.4 751.6 2607.7 752.4 2610.9C753.1 2614.2 753.9 2617.4 754.7 2620.7C755.4 2623.9 756.2 2627.2 756.9 2630.4C757.7 2633.7 758.4 2636.9 759.1 2640.2C759.9 2643.5 760.6 2646.7 761.3 2650C762 2653.2 762.7 2656.5 763.5 2659.8C764.2 2663 764.9 2666.3 765.6 2669.6C766.2 2672.8 766.9 2676.1 767.6 2679.4C768.3 2682.7 769 2685.9 769.6 2689.2C770.3 2692.5 770.9 2695.8 771.6 2699C772.2 2702.3 772.9 2705.6 773.5 2708.9C774.1 2712.1 774.7 2715.4 775.4 2718.7C776 2722 776.6 2725.3 777.2 2728.6C777.8 2731.9 778.4 2735.1 779 2738.4C779.5 2741.7 780.1 2745 780.7 2748.3C781.3 2751.6 781.8 2754.9 782.4 2758.2C783 2761.5 783.5 2764.8 784.1 2768C784.7 2771.3 785.2 2774.6 785.8 2777.9C786.3 2781.2 786.9 2784.5 787.4 2787.8C788 2791.1 788.5 2794.4 789.1 2797.7C789.6 2801 790.1 2804.3 790.7 2807.6C791.2 2810.9 791.8 2814.2 792.3 2817.5C792.8 2820.8 793.4 2824.1 793.9 2827.4C794.4 2830.7 795 2834 795.5 2837.3C796 2840.6 796.5 2843.9 797.1 2847.2C797.6 2850.5 798.1 2853.8 798.7 2857.1C799.2 2860.3 799.8 2863.6 800.3 2866.9C800.8 2870.2 801.4 2873.5 801.9 2876.8C802.4 2880.1 803 2883.4 803.5 2886.7C804.1 2890 804.6 2893.3 805.1 2896.6C805.7 2899.9 806.2 2903.2 806.8 2906.5C807.3 2909.8 807.9 2913.1 808.4 2916.4C809 2919.7 809.5 2923 810.1 2926.3C810.6 2929.6 811.2 2932.9 811.8 2936.1C812.3 2939.4 812.9 2942.7 813.5 2946C814 2949.3 814.6 2952.6 815.2 2955.9C815.8 2959.2 816.3 2962.5 816.9 2965.8C817.5 2969.1 818.1 2972.3 818.6 2975.6C819.2 2978.9 819.8 2982.2 820.4 2985.5C821 2988.8 821.6 2992.1 822.2 2995.4C822.7 2998.7 823.3 3001.9 823.9 3005.2C824.5 3008.5 825.1 3011.8 825.7 3015.1C826.3 3018.4 826.9 3021.7 827.5 3025C828.1 3028.2 828.7 3031.5 829.3 3034.8C829.9 3038.1 830.5 3041.4 831.1 3044.7C831.7 3048 832.3 3051.2 832.9 3054.5C833.5 3057.8 834.1 3061.1 834.8 3064.4C835.4 3067.7 836 3070.9 836.6 3074.2C837.2 3077.5 837.8 3080.8 838.4 3084.1C839.1 3087.4 839.7 3090.6 840.3 3093.9C840.9 3097.2 841.5 3100.5 842.1 3103.8C842.7 3107.1 843.3 3110.4 844 3113.6C844.6 3116.9 845.2 3120.2 845.8 3123.5C846.5 3126.8 847.1 3130 847.7 3133.3C848.4 3136.6 849 3139.9 849.7 3143.1C850.4 3146.4 851 3149.7 851.7 3152.9C852.4 3156.2 853.1 3159.4 853.8 3162.7C854.6 3165.9 855.3 3169.2 856.1 3172.4C856.9 3175.7 857.7 3178.9 858.5 3182.1C859.3 3185.4 860.2 3188.6 861.1 3191.8C862 3195 862.9 3198.2 863.9 3201.4C864.9 3204.7 865.9 3207.9 867 3211.1C868.2 3214.4 869.3 3217.6 870.8 3220.8C872.3 3223.9 874.1 3227.1 876.3 3229.7C878.5 3232.4 881.1 3234.2 883.7 3233.7C886.3 3233.3 889 3230.9 891.2 3228.1C893.4 3225.3 895.1 3222.1 896.4 3219C897.8 3215.8 898.8 3212.6 899.9 3209.4C900.9 3206.1 901.9 3203 903 3199.8C904 3196.6 905 3193.4 905.9 3190.2C906.9 3187 907.8 3183.8 908.7 3180.6C909.7 3177.4 910.5 3174.2 911.4 3170.9C912.3 3167.7 913.2 3164.5 914 3161.3C914.9 3158.1 915.7 3154.8 916.5 3151.6C917.4 3148.4 918.2 3145.1 919 3141.9C919.9 3138.7 920.7 3135.4 921.6 3132.2C922.4 3129 923.3 3125.8 924.2 3122.5C925.1 3119.3 926 3116.1 926.9 3112.9C927.9 3109.7 928.8 3106.5 929.8 3103.3C930.8 3100.1 931.9 3097 933 3093.8C934.1 3090.7 935.2 3087.5 936.4 3084.4C937.6 3081.3 938.8 3078.2 940.1 3075.1C941.4 3072 942.7 3068.9 944 3065.9C945.4 3062.8 946.7 3059.7 948.2 3056.7C949.6 3053.6 951.1 3050.7 952.9 3047.8C954.7 3044.9 956.7 3042.2 959 3039.7C961.2 3037.2 963.8 3035 966.8 3033.7C969.8 3032.4 973.1 3031.9 976.4 3032.4C979.7 3032.8 982.9 3034 985.9 3035.5C988.9 3037 991.8 3038.7 994.6 3040.6C997.4 3042.5 1000 3044.5 1002.6 3046.6C1005.2 3048.7 1007.8 3050.9 1010.3 3053.1C1012.9 3055.3 1015.4 3057.6 1017.9 3059.8C1020.4 3062 1023 3064.2 1025.5 3066.4C1028.1 3068.5 1030.7 3070.6 1033.3 3072.8C1035.9 3074.9 1038.5 3076.9 1041.1 3079C1043.7 3081 1046.4 3083.1 1049 3085.1C1051.7 3087.1 1054.4 3089.1 1057.1 3091C1059.8 3093 1062.5 3095 1065.2 3096.9C1067.9 3098.9 1070.6 3100.8 1073.4 3102.7C1076.1 3104.7 1078.8 3106.6 1081.6 3108.5C1084.3 3110.4 1087.1 3112.3 1089.8 3114.2C1092.6 3116.1 1095.4 3117.9 1098.1 3119.8C1100.9 3121.7 1103.7 3123.5 1106.5 3125.3C1109.3 3127.1 1112.1 3128.9 1115 3130.7C1117.8 3132.5 1120.7 3134.2 1123.5 3135.9C1126.4 3137.6 1129.3 3139.2 1132.2 3140.8C1135.2 3142.4 1138.1 3144 1141.1 3145.5C1144.1 3147.1 1147 3148.6 1150 3150.1C1153 3151.5 1156 3153 1159.1 3154.4C1162.1 3155.8 1165.1 3157.2 1168.2 3158.5C1171.3 3159.8 1174.4 3161.1 1177.5 3162.3C1180.6 3163.5 1183.7 3164.7 1186.9 3165.8C1190 3166.9 1193.2 3168 1196.4 3169C1199.5 3170 1202.7 3171 1206 3171.9C1209.2 3172.8 1212.4 3173.7 1215.6 3174.5C1218.9 3175.3 1222.1 3176 1225.4 3176.7C1228.7 3177.4 1232 3178 1235.3 3178.6C1238.5 3179.2 1241.8 3179.8 1245.1 3180.3C1248.4 3180.8 1251.8 3181.2 1255.1 3181.6C1258.4 3182 1261.7 3182.4 1265 3182.7C1268.4 3183.1 1271.7 3183.4 1275 3183.6C1278.3 3183.9 1281.7 3184.1 1285 3184.3C1288.4 3184.5 1291.7 3184.7 1295 3184.9C1298.4 3185 1301.7 3185.1 1305 3185.2C1308.4 3185.4 1311.7 3185.4 1315.1 3185.5C1318.4 3185.6 1321.8 3185.6 1325.1 3185.6C1328.4 3185.7 1331.8 3185.7 1335.1 3185.6C1338.5 3185.6 1341.8 3185.6 1345.1 3185.5C1348.5 3185.4 1351.8 3185.3 1355.2 3185.2C1358.5 3185.1 1361.8 3185 1365.2 3184.8C1368.5 3184.6 1371.9 3184.5 1375.2 3184.3C1378.5 3184 1381.9 3183.8 1385.2 3183.5C1388.5 3183.3 1391.8 3183 1395.2 3182.6C1398.5 3182.3 1401.8 3181.9 1405.1 3181.5C1408.4 3181.1 1411.8 3180.6 1415.1 3180.1C1418.4 3179.6 1421.7 3179 1424.9 3178.4C1428.2 3177.8 1431.5 3177.2 1434.8 3176.5C1438 3175.7 1441.3 3175 1444.5 3174.2C1447.8 3173.4 1451 3172.5 1454.2 3171.6C1457.4 3170.7 1460.6 3169.7 1463.8 3168.7C1467 3167.6 1470.1 3166.6 1473.3 3165.4C1476.4 3164.3 1479.5 3163.1 1482.6 3161.9C1485.7 3160.6 1488.8 3159.3 1491.9 3158C1495 3156.7 1498 3155.3 1501 3153.9C1504.1 3152.5 1507.1 3151 1510.1 3149.5C1513 3148 1516 3146.5 1519 3145C1521.9 3143.4 1524.9 3141.8 1527.8 3140.2C1530.7 3138.6 1533.6 3137 1536.5 3135.3C1539.4 3133.6 1542.2 3131.8 1545.1 3130.1C1547.9 3128.3 1550.7 3126.5 1553.5 3124.7C1556.3 3122.8 1559.1 3121 1561.9 3119.1C1564.6 3117.3 1567.4 3115.4 1570.2 3113.5C1572.9 3111.6 1575.7 3109.7 1578.4 3107.8C1581.2 3105.9 1583.9 3104 1586.6 3102C1589.4 3100.1 1592.1 3098.2 1594.8 3096.2C1597.5 3094.3 1600.2 3092.3 1602.9 3090.3C1605.6 3088.4 1608.3 3086.4 1610.9 3084.4C1613.6 3082.3 1616.2 3080.3 1618.9 3078.3C1621.5 3076.2 1624.1 3074.1 1626.7 3072C1629.3 3069.9 1631.8 3067.7 1634.4 3065.6C1637 3063.4 1639.5 3061.2 1642 3059C1644.5 3056.8 1647.1 3054.5 1649.6 3052.3C1652.1 3050.1 1654.7 3047.9 1657.3 3045.8C1659.9 3043.7 1662.6 3041.8 1665.4 3039.9C1668.2 3038.1 1671.1 3036.4 1674.2 3035C1677.3 3033.6 1680.5 3032.5 1683.8 3032.3C1687.1 3032 1690.3 3032.7 1693.2 3034.2C1696.1 3035.8 1698.6 3038.1 1700.9 3040.6C1703.1 3043.2 1705 3045.9 1706.7 3048.8C1708.4 3051.7 1709.9 3054.7 1711.4 3057.8C1712.8 3060.8 1714.1 3063.9 1715.5 3067C1716.8 3070 1718.1 3073.1 1719.4 3076.2C1720.7 3079.3 1721.9 3082.4 1723 3085.5C1724.2 3088.7 1725.3 3091.8 1726.4 3095C1727.5 3098.1 1728.5 3101.3 1729.5 3104.5C1730.5 3107.7 1731.5 3110.9 1732.4 3114.1C1733.4 3117.3 1734.3 3120.5 1735.2 3123.7C1736 3126.9 1736.9 3130.1 1737.8 3133.4C1738.6 3136.6 1739.4 3139.8 1740.3 3143.1C1741.1 3146.3 1741.9 3149.5 1742.8 3152.8C1743.6 3156 1744.5 3159.2 1745.3 3162.4C1746.2 3165.7 1747 3168.9 1747.9 3172.1C1748.8 3175.3 1749.7 3178.5 1750.6 3181.7C1751.5 3184.9 1752.4 3188.1 1753.4 3191.3C1754.4 3194.5 1755.4 3197.7 1756.4 3200.9C1757.4 3204.1 1758.5 3207.3 1759.5 3210.5C1760.6 3213.7 1761.7 3217 1763.1 3220.1C1764.5 3223.2 1766.3 3226.4 1768.6 3229.1C1770.9 3231.8 1773.6 3233.9 1776.2 3233.8C1778.8 3233.8 1781.3 3231.5 1783.5 3228.7C1785.6 3226 1787.3 3222.8 1788.7 3219.6C1790.1 3216.4 1791.3 3213.2 1792.3 3210C1793.4 3206.7 1794.5 3203.5 1795.4 3200.3C1796.4 3197.1 1797.3 3193.9 1798.2 3190.6C1799.1 3187.4 1800 3184.2 1800.8 3181C1801.6 3177.7 1802.4 3174.5 1803.2 3171.3C1804 3168 1804.7 3164.8 1805.4 3161.5C1806.1 3158.3 1806.8 3155 1807.5 3151.8C1808.2 3148.5 1808.9 3145.2 1809.5 3142C1810.2 3138.7 1810.9 3135.4 1811.5 3132.1C1812.1 3128.9 1812.8 3125.6 1813.4 3122.3C1814 3119 1814.6 3115.7 1815.3 3112.5C1815.9 3109.2 1816.5 3105.9 1817.1 3102.6C1817.7 3099.3 1818.3 3096 1818.9 3092.7C1819.6 3089.5 1820.2 3086.2 1820.8 3082.9C1821.4 3079.6 1822 3076.3 1822.6 3073C1823.2 3069.8 1823.9 3066.5 1824.5 3063.2C1825.1 3059.9 1825.7 3056.6 1826.3 3053.3C1826.9 3050.1 1827.5 3046.8 1828.1 3043.5C1828.7 3040.2 1829.3 3036.9 1829.9 3033.6C1830.5 3030.3 1831.1 3027.1 1831.7 3023.8C1832.3 3020.5 1832.9 3017.2 1833.5 3013.9C1834.1 3010.6 1834.7 3007.3 1835.3 3004C1835.9 3000.8 1836.5 2997.5 1837.1 2994.2C1837.6 2990.9 1838.2 2987.6 1838.8 2984.3C1839.4 2981 1840 2977.7 1840.6 2974.4C1841.1 2971.2 1841.7 2967.9 1842.3 2964.6C1842.9 2961.3 1843.5 2958 1844 2954.7C1844.6 2951.4 1845.2 2948.1 1845.7 2944.8C1846.3 2941.5 1846.9 2938.3 1847.4 2935C1848 2931.7 1848.6 2928.4 1849.1 2925.1C1849.7 2921.8 1850.2 2918.5 1850.8 2915.2C1851.3 2911.9 1851.9 2908.6 1852.4 2905.3C1853 2902 1853.5 2898.7 1854.1 2895.4C1854.6 2892.1 1855.1 2888.8 1855.7 2885.5C1856.2 2882.2 1856.8 2878.9 1857.3 2875.6C1857.8 2872.3 1858.4 2869 1858.9 2865.8C1859.4 2862.5 1860 2859.2 1860.5 2855.9C1861 2852.6 1861.6 2849.3 1862.1 2846C1862.6 2842.7 1863.2 2839.4 1863.7 2836.1C1864.2 2832.8 1864.8 2829.5 1865.3 2826.2C1865.8 2822.9 1866.4 2819.6 1866.9 2816.3C1867.4 2813 1868 2809.7 1868.5 2806.4C1869 2803.1 1869.6 2799.8 1870.1 2796.5C1870.7 2793.2 1871.2 2789.9 1871.8 2786.6C1872.3 2783.3 1872.9 2780 1873.4 2776.7C1874 2773.4 1874.5 2770.2 1875.1 2766.9C1875.7 2763.6 1876.2 2760.3 1876.8 2757C1877.4 2753.7 1877.9 2750.4 1878.5 2747.1C1879.1 2743.8 1879.7 2740.5 1880.3 2737.2C1880.8 2734 1881.4 2730.7 1882 2727.4C1882.6 2724.1 1883.3 2720.8 1883.9 2717.5C1884.5 2714.2 1885.1 2711 1885.7 2707.7C1886.4 2704.4 1887 2701.1 1887.7 2697.8C1888.3 2694.6 1889 2691.3 1889.6 2688C1890.3 2684.7 1891 2681.5 1891.6 2678.2C1892.3 2674.9 1893 2671.7 1893.7 2668.4C1894.4 2665.1 1895.1 2661.9 1895.8 2658.6C1896.5 2655.3 1897.2 2652.1 1898 2648.8C1898.7 2645.5 1899.4 2642.3 1900.1 2639C1900.9 2635.8 1901.6 2632.5 1902.4 2629.3C1903.1 2626 1903.9 2622.7 1904.6 2619.5C1905.4 2616.2 1906.1 2613 1906.9 2609.7C1907.7 2606.5 1908.4 2603.2 1909.2 2600C1910 2596.7 1910.8 2593.5 1911.6 2590.2C1912.4 2587 1913.2 2583.8 1914 2580.5C1914.8 2577.3 1915.6 2574 1916.4 2570.8C1917.2 2567.6 1918 2564.3 1918.9 2561.1C1919.7 2557.8 1920.5 2554.6 1921.3 2551.4C1922.2 2548.1 1923 2544.9 1923.8 2541.7C1924.7 2538.4 1925.5 2535.2 1926.4 2532C1927.2 2528.7 1928.1 2525.5 1928.9 2522.3C1929.8 2519.1 1930.6 2515.8 1931.5 2512.6C1932.4 2509.4 1933.2 2506.1 1934.1 2502.9C1935 2499.7 1935.9 2496.5 1936.7 2493.2C1937.6 2490 1938.5 2486.8 1939.4 2483.6C1940.3 2480.4 1941.2 2477.2 1942.1 2473.9C1943 2470.7 1943.9 2467.5 1944.9 2464.3C1945.8 2461.1 1946.7 2457.9 1947.6 2454.7C1948.6 2451.5 1949.5 2448.3 1950.4 2445.1C1951.4 2441.9 1952.3 2438.7 1953.3 2435.5C1954.3 2432.3 1955.2 2429.1 1956.2 2425.9C1957.2 2422.7 1958.2 2419.5 1959.1 2416.3C1960.1 2413.1 1961.1 2409.9 1962.1 2406.7C1963.1 2403.5 1964.2 2400.3 1965.2 2397.2C1966.2 2394 1967.2 2390.8 1968.3 2387.6C1969.3 2384.5 1970.4 2381.3 1971.4 2378.1C1972.5 2374.9 1973.5 2371.8 1974.6 2368.6C1975.7 2365.5 1976.8 2362.3 1977.9 2359.1C1979 2356 1980.1 2352.8 1981.2 2349.7C1982.4 2346.6 1983.5 2343.4 1984.7 2340.3C1985.8 2337.2 1987 2334 1988.2 2330.9C1989.4 2327.8 1990.6 2324.7 1991.8 2321.6C1993 2318.5 1994.3 2315.3 1995.5 2312.3C1996.8 2309.2 1998 2306.1 1999.3 2303C2000.6 2299.9 2001.9 2296.8 2003.2 2293.8C2004.5 2290.7 2005.9 2287.6 2007.2 2284.6C2008.6 2281.5 2009.9 2278.5 2011.3 2275.4C2012.7 2272.4 2014.1 2269.3 2015.5 2266.3C2016.9 2263.3 2018.3 2260.2 2019.7 2257.2C2021.2 2254.2 2022.6 2251.2 2024.1 2248.2C2025.5 2245.2 2027 2242.2 2028.4 2239.2C2029.9 2236.2 2031.4 2233.2 2032.9 2230.2C2034.4 2227.2 2035.9 2224.2 2037.4 2221.2C2038.9 2218.2 2040.4 2215.2 2041.9 2212.3C2043.4 2209.3 2044.9 2206.3 2046.4 2203.3C2048 2200.4 2049.5 2197.4 2051.1 2194.5C2052.7 2191.5 2054.3 2188.6 2055.9 2185.7C2057.6 2182.8 2059.3 2179.9 2061 2177.1C2062.7 2174.2 2064.5 2171.4 2066.3 2168.6C2068.2 2165.8 2070 2163 2071.9 2160.2C2073.8 2157.5 2075.7 2154.7 2077.6 2152C2079.5 2149.3 2081.5 2146.6 2083.5 2143.9C2085.5 2141.2 2087.6 2138.6 2089.7 2136C2091.8 2133.4 2093.9 2130.8 2096 2128.3C2098.2 2125.7 2100.4 2123.2 2102.6 2120.7C2104.9 2118.2 2107.1 2115.8 2109.4 2113.3C2111.7 2110.9 2114.1 2108.5 2116.4 2106.1C2118.8 2103.8 2121.2 2101.5 2123.6 2099.2C2126.1 2096.9 2128.5 2094.6 2131 2092.4C2133.5 2090.1 2136.1 2088 2138.6 2085.8C2141.2 2083.7 2143.8 2081.6 2146.4 2079.5C2149 2077.5 2151.7 2075.4 2154.4 2073.5C2157.1 2071.5 2159.9 2069.6 2162.6 2067.7C2165.4 2065.9 2168.2 2064 2171 2062.3C2173.9 2060.5 2176.8 2058.8 2179.7 2057.2C2182.6 2055.5 2185.5 2053.9 2188.5 2052.4C2191.5 2050.9 2194.5 2049.4 2197.5 2048C2200.5 2046.6 2203.6 2045.2 2206.7 2043.9C2209.7 2042.6 2212.9 2041.4 2216 2040.2C2219.1 2039 2222.2 2037.8 2225.4 2036.7C2228.6 2035.6 2231.7 2034.6 2234.9 2033.6C2238.1 2032.6 2241.3 2031.6 2244.6 2030.8C2247.8 2029.9 2251 2029.1 2254.3 2028.3C2257.5 2027.6 2260.8 2026.9 2264.1 2026.3C2267.4 2025.8 2270.7 2025.3 2274 2025C2277.3 2024.6 2280.6 2024.4 2284 2024.2C2287.3 2024 2290.7 2023.8 2294 2023.7"/>
<circle cx="1037" cy="853.5" r="16"/>
<circle cx="1078.1" cy="228.8" r="16"/>
<circle cx="972.6" cy="3035.4" r="16"/>
<circle cx="1110" cy="2512.5" r="16"/>
<text transform="translate(1057.2 847) scale(1 1.085)" font-size="81">A</text>
<text transform="translate(1095.5 207.1) scale(1 1.085)" font-size="81">B</text>
<text transform="translate(897.2 3024) scale(1 1.085)" font-size="81">A</text>
<text transform="translate(1028.5 2505) scale(1 1.085)" font-size="81">B</text>
<text x="401.5" y="188.3" font-size="88">(a)</text>
<text transform="translate(567.5 190.5) scale(1.18 1)" font-size="88" class="se">ε</text>
<text x="600.5" y="149.2" font-size="48">a</text>
<text x="597.5" y="217.7" font-size="48" class="it">xx</text>
<text transform="translate(645.5 189.5) scale(1 1.04)" font-size="80" style="white-space:pre">= 0</text>
<text x="436.5" y="1982.6" font-size="88">(b)</text>
<text transform="translate(612.1 1984.8) scale(1.18 1)" font-size="88" class="se">ε</text>
<text x="645.1" y="1943.5" font-size="48">a</text>
<text x="646.6" y="2012" font-size="48" class="it">xx</text>
<text transform="translate(694.5 1983.8) scale(1 1.04)" font-size="80" style="white-space:pre">= – 0.025</text>
<text x="437.6" y="321.2" font-size="80" class="it">x</text>
<text transform="translate(475 321.2) scale(1 1.04)" font-size="80">*</text>
<text x="507" y="321.2" font-size="80">–axis</text>
<text x="692.2" y="2126.6" font-size="80" class="it">x</text>
<text transform="translate(729.6 2126.6) scale(1 1.04)" font-size="80">*</text>
<text x="761.6" y="2126.6" font-size="80">–axis</text>
<line class="bk" x1="1782.2" y1="141.4" x2="1932.4" y2="141.4"/>
<line class="rd" x1="1782.2" y1="260.8" x2="1932.4" y2="260.8"/>
<text x="1953.2" y="166.9" font-size="66" class="it">c</text>
<text transform="translate(1985.5 188.9) scale(1 1.04)" font-size="39.5">V</text>
<text x="1985.5" y="131.4" font-size="39.5">i</text>
<text x="2011.5" y="166.9" font-size="66">=</text>
<text x="2052.7" y="166.9" font-size="66" class="it">c</text>
<text transform="translate(2084 188.9) scale(1 1.04)" font-size="39.5">I</text>
<text x="2085" y="131.4" font-size="39.5">i</text>
<text x="2095.7" y="166.9" font-size="66">=</text>
<text transform="translate(2136.2 166.4) scale(1 1.06)" font-size="66">0</text>
<text x="1953.2" y="285.6" font-size="66" class="it">c</text>
<text transform="translate(1985.5 307.6) scale(1 1.04)" font-size="39.5">V</text>
<text x="1985.5" y="250.1" font-size="39.5">i</text>
<text x="2011.5" y="285.6" font-size="66">=</text>
<text x="2052.7" y="285.6" font-size="66" class="it">c</text>
<text transform="translate(2084 307.6) scale(1 1.04)" font-size="39.5">I</text>
<text x="2085" y="250.1" font-size="39.5">i</text>
<text x="2095.7" y="285.6" font-size="66">=</text>
<text transform="translate(2136.2 285.1) scale(1 1.06)" font-size="66">10</text>
<text transform="translate(2210.5 250.8) scale(1 1.04)" font-size="39.5">–7</text>
<line class="bk" x1="1561.3" y1="1962.3" x2="1711.5" y2="1962.3"/>
<line class="rd" x1="1561.3" y1="2081.7" x2="1711.5" y2="2081.7"/>
<text x="1733.2" y="1987.8" font-size="66" class="it">c</text>
<text transform="translate(1765.5 2009.8) scale(1 1.04)" font-size="39.5">V</text>
<text x="1765.5" y="1952.3" font-size="39.5">i</text>
<text x="1794.4" y="1987.8" font-size="66">=</text>
<text x="1835.6" y="1987.8" font-size="66" class="it">c</text>
<text transform="translate(1866.9 2009.8) scale(1 1.04)" font-size="39.5">I</text>
<text x="1867.9" y="1952.3" font-size="39.5">i</text>
<text x="1878.6" y="1987.8" font-size="66">=</text>
<text transform="translate(1919.1 1987.3) scale(1 1.06)" font-size="66">0</text>
<text x="1733.2" y="2106.5" font-size="66" class="it">c</text>
<text transform="translate(1765.5 2128.5) scale(1 1.04)" font-size="39.5">V</text>
<text x="1765.5" y="2071" font-size="39.5">i</text>
<text x="1794.4" y="2106.5" font-size="66">=</text>
<text x="1835.6" y="2106.5" font-size="66" class="it">c</text>
<text transform="translate(1866.9 2128.5) scale(1 1.04)" font-size="39.5">I</text>
<text x="1867.9" y="2071" font-size="39.5">i</text>
<text x="1878.6" y="2106.5" font-size="66">=</text>
<text transform="translate(1919.1 2106) scale(1 1.06)" font-size="66">10</text>
<text transform="translate(1993.4 2071.7) scale(1 1.04)" font-size="39.5">–7</text>
<text transform="translate(1347.4 1780.6) scale(1 1.05)" font-size="88.5" text-anchor="middle">Position</text>
<text transform="translate(1386.4 3571.7) scale(1 1.05)" font-size="88.5" text-anchor="middle">Position</text>
<g transform="translate(135.9 977) rotate(-90)">
<text transform="translate(-4 0) scale(1 1.04)" font-size="90" class="it">E</text>
<text transform="translate(55.6 -24.5) scale(1 1.04)" font-size="80">*</text>
<text x="55.3" y="30.3" font-size="54">e</text>
<text x="89.8" y="0" font-size="90">(</text>
<text transform="translate(119.8 0) scale(1 1.04)" font-size="90">x10</text>
<text transform="translate(266 -43.3) scale(1 1.04)" font-size="54">–4</text>
<text x="326" y="0" font-size="90">)</text>
</g>
<g transform="translate(118.8 2752.4) rotate(-90)">
<text transform="translate(-4 0) scale(1 1.04)" font-size="90" class="it">E</text>
<text transform="translate(55.6 -24.5) scale(1 1.04)" font-size="80">*</text>
<text x="55.3" y="30.3" font-size="54">e</text>
<text x="89.8" y="0" font-size="90">(</text>
<text transform="translate(119.8 0) scale(1 1.04)" font-size="90">x10</text>
<text transform="translate(266 -43.3) scale(1 1.04)" font-size="54">–2</text>
<text x="326" y="0" font-size="90">)</text>
</g>
</svg></body></html>
